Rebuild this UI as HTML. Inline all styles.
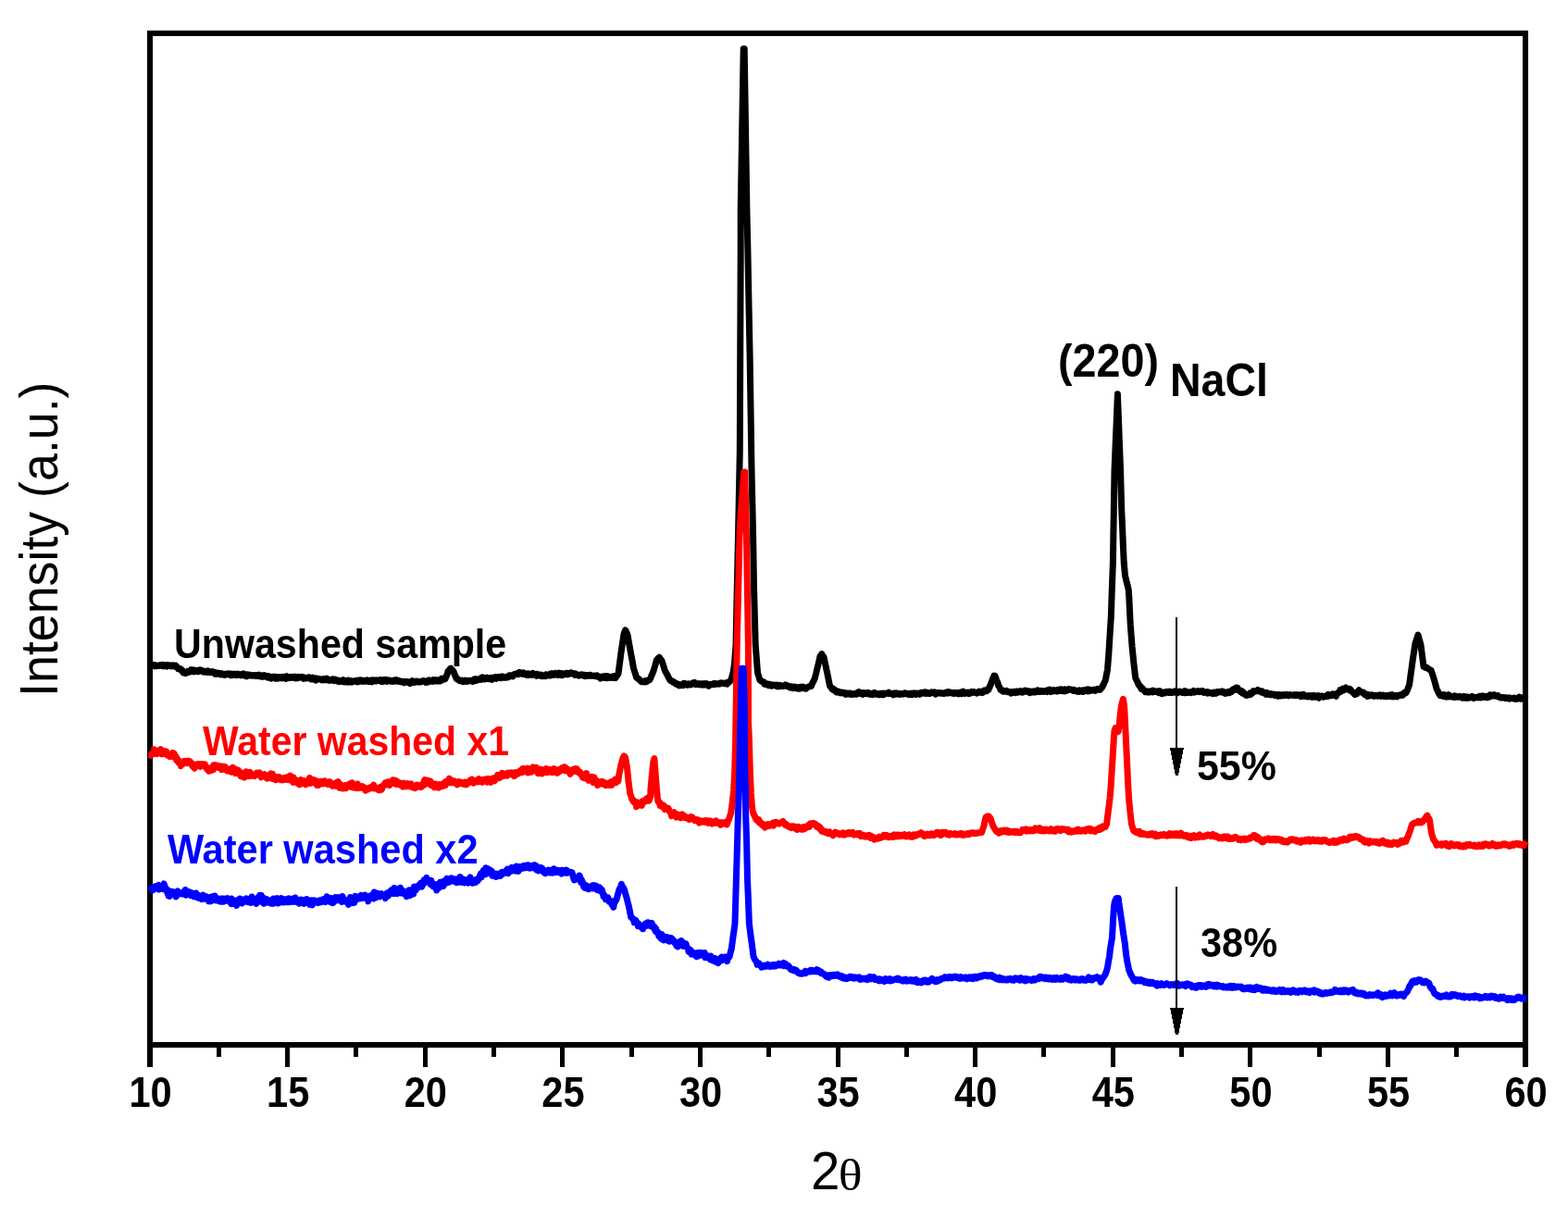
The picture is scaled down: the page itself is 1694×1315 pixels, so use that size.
<!DOCTYPE html>
<html lang="en"><head><meta charset="utf-8"><title>XRD patterns</title>
<style>html,body{margin:0;padding:0;background:#fff}body{width:1694px;height:1315px;overflow:hidden}svg{display:block}text{font-family:"Liberation Sans",Arial,Helvetica,sans-serif;fill:#000}.b{font-weight:bold}.tk{font-size:45.77px;font-weight:bold;text-anchor:middle}.th{font-family:"Liberation Serif","DejaVu Serif",serif;font-size:48.5px}.an{font-size:42px;font-weight:bold}.ax{font-size:55px}.cv{fill:none;stroke-linejoin:round;stroke-linecap:butt}</style></head><body>
<svg width="1694" height="1315" viewBox="0 0 1694 1315">
<rect x="0" y="0" width="1694" height="1315" fill="#fff"/>
<g stroke="#000" fill="none" shape-rendering="crispEdges">
<rect x="162" y="36" width="1486" height="1093" stroke-width="6"/>
<path d="M162.0 1129V1153M310.6 1129V1153M459.2 1129V1153M607.8 1129V1153M756.4 1129V1153M905.0 1129V1153M1053.6 1129V1153M1202.2 1129V1153M1350.8 1129V1153M1499.4 1129V1153M1648.0 1129V1153" stroke-width="5"/>
<path d="M236.3 1129V1142M384.9 1129V1142M533.5 1129V1142M682.1 1129V1142M830.7 1129V1142M979.3 1129V1142M1127.9 1129V1142M1276.5 1129V1142M1425.1 1129V1142M1573.7 1129V1142" stroke-width="5"/>
<path d="M162 1129V1153M1648 1129V1153" stroke-width="6"/>
</g>
<text class="tk" transform="translate(162.6 1195.6) scale(0.9087 1)">10</text>
<text class="tk" transform="translate(311.2 1195.6) scale(0.9087 1)">15</text>
<text class="tk" transform="translate(459.8 1195.6) scale(0.9087 1)">20</text>
<text class="tk" transform="translate(608.4 1195.6) scale(0.9087 1)">25</text>
<text class="tk" transform="translate(757.0 1195.6) scale(0.9087 1)">30</text>
<text class="tk" transform="translate(905.6 1195.6) scale(0.9087 1)">35</text>
<text class="tk" transform="translate(1054.2 1195.6) scale(0.9087 1)">40</text>
<text class="tk" transform="translate(1202.8 1195.6) scale(0.9087 1)">45</text>
<text class="tk" transform="translate(1351.4 1195.6) scale(0.9087 1)">50</text>
<text class="tk" transform="translate(1500.0 1195.6) scale(0.9087 1)">55</text>
<text class="tk" transform="translate(1648.6 1195.6) scale(0.9087 1)">60</text>
<text class="ax" transform="translate(875.9 1285) scale(1.008 1.026)" style="font-size:56px">2</text>
<text class="th" transform="translate(905.8 1286) scale(1.11 1)">θ</text>
<text class="ax" transform="translate(62.2 752.9) rotate(-90) scale(0.9435 1)" style="font-size:56.96px">Intensity (a.u.)</text>
<path class="cv" stroke="#000" stroke-width="7" d="M162.4 720.0 L163.0 718.9 L163.6 719.0 L164.2 717.9 L164.8 718.8 L165.4 718.4 L166.0 718.8 L166.6 718.7 L167.2 719.8 L167.8 718.6 L168.4 719.1 L169.0 719.0 L169.6 719.7 L170.2 719.3 L170.8 719.1 L171.4 719.2 L172.0 719.4 L172.6 718.9 L173.2 718.4 L173.8 718.5 L174.4 719.2 L175.0 719.6 L175.6 718.3 L176.2 719.0 L176.8 718.6 L177.4 719.7 L178.0 718.7 L178.6 718.9 L179.2 719.3 L179.8 718.8 L180.4 720.0 L181.0 718.7 L181.6 719.6 L182.2 718.8 L182.8 718.7 L183.4 718.9 L184.0 719.7 L184.6 719.8 L185.2 720.0 L185.8 719.2 L186.4 718.8 L187.0 719.4 L187.6 719.1 L188.2 719.0 L188.8 720.1 L189.4 719.7 L190.0 719.1 L190.6 720.2 L191.2 720.7 L191.8 721.2 L192.4 722.6 L192.9 722.3 L193.5 722.6 L194.1 723.2 L194.7 722.8 L195.3 722.8 L195.9 723.9 L196.5 725.1 L197.1 724.5 L197.6 724.8 L198.2 727.0 L198.8 726.1 L199.4 726.7 L200.0 726.7 L200.6 727.6 L201.2 726.9 L201.8 727.1 L202.3 726.8 L202.9 725.5 L203.5 726.1 L204.1 725.7 L204.7 725.3 L205.2 726.0 L205.8 724.8 L206.4 723.6 L207.0 724.0 L207.6 724.9 L208.2 725.1 L208.8 723.8 L209.4 725.8 L210.0 724.0 L210.6 725.4 L211.2 724.8 L211.8 724.9 L212.4 724.7 L213.0 724.9 L213.6 725.8 L214.2 725.8 L214.8 724.2 L215.4 724.8 L216.0 724.7 L216.6 724.0 L217.2 724.9 L217.8 724.5 L218.4 724.8 L219.0 725.5 L219.6 726.0 L220.2 725.3 L220.8 726.0 L221.4 726.1 L222.0 726.2 L222.6 725.4 L223.1 726.0 L223.7 726.0 L224.3 726.3 L224.9 725.0 L225.5 725.9 L226.1 725.9 L226.7 725.8 L227.3 726.6 L227.9 726.2 L228.5 726.1 L229.1 725.7 L229.7 726.2 L230.3 726.8 L230.9 726.3 L231.4 727.0 L232.0 728.0 L232.6 727.6 L233.2 728.3 L233.8 727.0 L234.4 728.2 L235.0 727.2 L235.6 727.3 L236.2 727.8 L236.8 727.4 L237.4 727.8 L238.0 728.7 L238.6 727.8 L239.2 727.6 L239.8 728.8 L240.3 728.3 L240.9 728.4 L241.5 728.6 L242.1 729.2 L242.7 729.4 L243.3 729.1 L243.9 728.1 L244.5 728.8 L245.1 728.9 L245.7 728.5 L246.3 728.6 L246.9 728.0 L247.5 728.5 L248.1 728.2 L248.7 728.9 L249.2 729.6 L249.8 729.1 L250.4 728.2 L251.0 729.5 L251.6 729.1 L252.2 729.1 L252.8 729.1 L253.4 728.3 L254.0 728.9 L254.6 729.4 L255.2 729.6 L255.8 728.7 L256.4 729.3 L257.0 728.2 L257.6 728.7 L258.2 728.9 L258.8 728.6 L259.4 729.4 L260.0 729.8 L260.7 728.6 L261.3 729.3 L261.9 728.7 L262.5 729.0 L263.1 727.9 L263.7 729.0 L264.3 730.1 L264.9 729.7 L265.5 729.8 L266.1 729.9 L266.7 730.7 L267.3 728.9 L267.9 729.4 L268.5 729.7 L269.1 730.0 L269.7 729.1 L270.3 730.0 L270.9 730.1 L271.5 729.8 L272.1 729.7 L272.7 730.3 L273.3 730.1 L274.0 729.5 L274.6 729.8 L275.2 730.1 L275.8 730.4 L276.4 729.8 L277.0 730.4 L277.6 730.2 L278.2 729.8 L278.8 729.4 L279.4 729.1 L280.0 730.6 L280.6 730.0 L281.2 730.1 L281.8 729.8 L282.4 731.1 L283.0 730.7 L283.6 730.1 L284.2 731.2 L284.8 730.5 L285.4 729.7 L285.9 731.0 L286.5 729.8 L287.1 730.1 L287.7 731.2 L288.3 731.7 L288.9 732.1 L289.5 731.3 L290.1 730.6 L290.7 731.6 L291.3 732.1 L291.9 732.5 L292.5 731.5 L293.1 733.1 L293.7 732.0 L294.3 731.2 L294.9 731.2 L295.5 731.7 L296.1 731.5 L296.6 731.2 L297.2 732.3 L297.8 733.1 L298.4 732.3 L299.0 731.8 L299.6 732.5 L300.2 733.1 L300.8 732.4 L301.4 732.3 L302.0 731.6 L302.6 731.9 L303.2 732.7 L303.8 732.7 L304.4 732.9 L305.0 731.4 L305.6 732.5 L306.2 732.1 L306.8 731.5 L307.4 732.3 L308.1 733.0 L308.7 733.3 L309.3 731.7 L309.9 730.8 L310.5 732.9 L311.1 732.1 L311.7 732.1 L312.3 732.1 L312.9 732.1 L313.5 732.4 L314.1 731.4 L314.7 731.9 L315.3 732.1 L315.9 732.2 L316.5 731.3 L317.1 731.6 L317.7 732.5 L318.3 732.3 L318.9 731.2 L319.6 733.0 L320.2 732.1 L320.8 732.6 L321.4 732.8 L322.0 732.7 L322.6 731.5 L323.2 731.9 L323.8 732.1 L324.4 731.5 L325.0 731.6 L325.6 731.4 L326.2 732.2 L326.8 732.2 L327.4 732.4 L328.0 733.3 L328.6 731.9 L329.2 732.7 L329.8 732.5 L330.4 733.0 L331.0 732.6 L331.6 732.8 L332.2 732.6 L332.8 732.1 L333.4 731.8 L334.0 731.7 L334.6 732.9 L335.2 732.6 L335.8 733.8 L336.4 733.1 L337.0 732.8 L337.6 733.8 L338.2 732.2 L338.8 733.9 L339.4 733.9 L340.0 734.4 L340.6 733.4 L341.2 735.1 L341.8 732.8 L342.4 734.5 L343.0 733.8 L343.6 734.0 L344.2 733.4 L344.8 733.5 L345.4 733.9 L346.0 733.9 L346.6 733.9 L347.2 733.9 L347.8 734.9 L348.4 734.6 L349.0 734.8 L349.6 733.6 L350.2 734.6 L350.8 734.2 L351.4 734.5 L352.0 733.4 L352.6 734.2 L353.2 733.2 L353.8 734.4 L354.4 735.1 L355.1 735.2 L355.7 735.3 L356.3 734.8 L356.9 735.2 L357.5 734.6 L358.1 734.8 L358.7 734.6 L359.3 734.0 L359.9 734.8 L360.5 734.2 L361.1 735.5 L361.7 734.2 L362.3 735.1 L362.9 734.4 L363.5 734.9 L364.1 735.9 L364.7 735.8 L365.3 736.3 L365.9 735.3 L366.6 736.4 L367.2 736.3 L367.8 736.6 L368.4 736.5 L369.0 735.6 L369.6 735.2 L370.2 735.6 L370.8 734.7 L371.4 735.4 L372.0 736.9 L372.6 736.0 L373.2 735.6 L373.8 735.9 L374.4 736.3 L375.0 737.0 L375.6 736.1 L376.2 734.9 L376.8 734.9 L377.4 737.1 L378.0 737.1 L378.6 735.7 L379.2 736.6 L379.8 736.0 L380.4 737.0 L381.0 736.4 L381.6 736.2 L382.2 736.2 L382.8 735.7 L383.4 735.7 L384.0 735.6 L384.6 736.1 L385.2 735.5 L385.8 736.9 L386.4 735.4 L387.0 736.7 L387.6 736.7 L388.2 736.3 L388.8 734.8 L389.4 735.7 L390.0 735.2 L390.6 736.0 L391.2 735.5 L391.8 735.3 L392.4 735.3 L393.0 736.2 L393.6 735.6 L394.2 735.9 L394.8 736.1 L395.4 735.3 L396.0 736.0 L396.6 736.1 L397.2 735.0 L397.8 736.3 L398.4 735.7 L399.0 736.5 L399.6 735.5 L400.2 735.3 L400.8 735.0 L401.4 735.9 L402.0 736.8 L402.6 734.8 L403.2 734.8 L403.8 735.0 L404.4 735.6 L405.0 735.8 L405.6 735.7 L406.2 736.0 L406.8 735.0 L407.4 735.5 L408.0 735.6 L408.6 735.4 L409.2 735.0 L409.8 735.5 L410.4 734.6 L411.0 735.2 L411.6 734.8 L412.2 736.4 L412.8 735.8 L413.4 735.2 L414.0 736.6 L414.6 734.5 L415.2 735.0 L415.8 734.6 L416.4 735.2 L417.0 734.5 L417.6 735.5 L418.2 736.3 L418.8 734.9 L419.4 735.2 L420.0 734.9 L420.6 735.3 L421.2 735.2 L421.8 736.1 L422.4 735.6 L423.0 736.2 L423.6 735.7 L424.2 736.4 L424.8 735.9 L425.4 735.7 L426.1 735.0 L426.7 736.3 L427.3 736.3 L427.9 735.6 L428.5 734.7 L429.1 736.1 L429.7 736.1 L430.3 735.8 L430.9 736.3 L431.5 735.7 L432.1 736.1 L432.7 736.5 L433.3 736.7 L433.9 736.9 L434.5 736.3 L435.1 736.4 L435.7 736.8 L436.3 736.7 L436.9 737.8 L437.6 736.5 L438.2 737.1 L438.8 736.8 L439.4 736.4 L440.0 736.6 L440.6 736.6 L441.2 737.6 L441.8 738.1 L442.4 738.1 L443.0 738.5 L443.6 737.8 L444.2 737.8 L444.8 737.2 L445.4 735.7 L446.0 736.4 L446.6 737.4 L447.2 736.6 L447.9 736.3 L448.5 736.3 L449.1 737.0 L449.7 736.4 L450.3 736.0 L450.9 736.5 L451.5 736.9 L452.1 737.0 L452.7 736.4 L453.3 736.5 L453.9 737.0 L454.5 737.0 L455.1 736.5 L455.8 736.3 L456.4 735.8 L457.0 735.6 L457.6 735.4 L458.2 735.9 L458.8 736.3 L459.4 736.3 L460.0 737.4 L460.6 736.6 L461.2 736.0 L461.8 737.0 L462.4 736.2 L463.0 736.8 L463.6 734.9 L464.1 735.2 L464.7 735.9 L465.3 736.2 L465.9 735.8 L466.5 735.7 L467.1 735.7 L467.7 736.3 L468.3 734.7 L468.9 735.7 L469.5 734.7 L470.1 734.6 L470.7 735.9 L471.3 735.5 L471.9 735.7 L472.4 735.9 L473.0 734.8 L473.6 734.9 L474.2 735.9 L474.8 735.1 L475.4 735.4 L476.0 735.8 L476.6 735.2 L477.2 733.1 L477.9 734.6 L478.5 733.7 L479.1 733.7 L479.8 734.1 L480.4 732.9 L481.0 733.5 L481.6 732.2 L482.2 730.6 L482.8 729.2 L483.4 727.9 L484.0 725.4 L484.6 724.6 L485.2 724.1 L485.8 723.6 L486.4 722.5 L487.0 722.1 L487.6 723.1 L488.2 723.4 L488.8 724.3 L489.4 724.8 L490.0 725.5 L490.6 727.2 L491.2 728.5 L491.8 730.5 L492.4 731.2 L493.0 733.3 L493.6 733.2 L494.2 734.2 L494.8 733.9 L495.4 734.3 L496.0 734.5 L496.6 735.6 L497.2 735.2 L497.8 735.5 L498.4 735.5 L499.0 735.2 L499.7 736.5 L500.3 736.7 L500.9 736.0 L501.5 736.3 L502.1 736.4 L502.7 735.1 L503.3 736.3 L503.9 736.1 L504.5 736.4 L505.1 735.7 L505.7 735.3 L506.3 735.9 L507.0 735.4 L507.6 735.4 L508.2 735.7 L508.8 735.5 L509.4 735.7 L510.0 735.2 L510.6 736.4 L511.2 734.8 L511.8 734.3 L512.4 736.0 L513.0 735.6 L513.6 735.0 L514.2 733.6 L514.8 735.3 L515.4 734.7 L516.0 734.5 L516.6 734.8 L517.2 734.6 L517.8 733.8 L518.4 733.4 L519.0 733.8 L519.6 732.6 L520.2 734.3 L520.8 733.4 L521.4 731.8 L522.0 733.8 L522.6 733.8 L523.2 734.0 L523.8 733.6 L524.4 733.5 L525.0 733.0 L525.6 733.2 L526.2 732.3 L526.8 733.6 L527.4 732.6 L528.0 732.7 L528.5 733.6 L529.1 733.2 L529.7 733.3 L530.3 732.3 L530.9 732.6 L531.5 734.4 L532.1 732.3 L532.7 733.5 L533.3 732.4 L533.9 732.8 L534.5 732.9 L535.0 731.7 L535.6 732.7 L536.2 733.2 L536.8 731.6 L537.4 732.7 L538.0 732.1 L538.6 732.3 L539.2 731.9 L539.8 731.3 L540.4 731.2 L541.0 732.6 L541.6 732.4 L542.2 732.0 L542.8 730.9 L543.4 731.5 L544.0 732.2 L544.6 732.3 L545.2 731.8 L545.8 731.7 L546.4 732.1 L547.0 731.4 L547.6 731.2 L548.2 731.1 L548.8 731.8 L549.4 731.0 L550.0 730.0 L550.6 729.7 L551.2 729.8 L551.8 730.6 L552.4 730.4 L553.0 729.9 L553.5 730.1 L554.1 730.7 L554.7 729.5 L555.3 729.4 L555.9 728.4 L556.5 728.7 L557.1 728.3 L557.7 728.2 L558.3 727.8 L558.9 727.5 L559.5 728.7 L560.1 728.5 L560.6 728.3 L561.2 726.3 L561.8 727.9 L562.4 728.0 L563.0 727.5 L563.6 727.8 L564.2 728.0 L564.8 728.3 L565.4 726.8 L566.0 727.0 L566.6 728.2 L567.2 728.6 L567.8 728.0 L568.4 729.2 L569.0 728.1 L569.6 729.1 L570.2 729.6 L570.8 727.8 L571.4 729.0 L572.0 729.2 L572.6 728.6 L573.2 729.0 L573.8 728.3 L574.4 728.5 L575.0 729.2 L575.6 727.3 L576.2 727.9 L576.8 728.3 L577.4 728.6 L578.0 729.4 L578.6 729.6 L579.2 729.2 L579.8 730.2 L580.4 728.4 L581.0 728.8 L581.6 728.8 L582.2 729.1 L582.8 729.1 L583.4 730.0 L584.0 729.3 L584.6 729.9 L585.2 729.5 L585.8 730.6 L586.4 729.9 L587.0 730.0 L587.6 729.7 L588.2 730.3 L588.8 730.4 L589.4 730.6 L590.0 728.8 L590.6 729.1 L591.2 729.4 L591.8 729.7 L592.4 729.7 L593.0 729.9 L593.6 729.7 L594.2 728.4 L594.8 729.9 L595.4 728.1 L596.0 729.1 L596.6 727.7 L597.2 729.1 L597.8 729.3 L598.4 729.4 L599.0 728.4 L599.6 728.1 L600.2 727.4 L600.8 728.1 L601.4 727.9 L602.0 728.6 L602.6 729.4 L603.2 728.6 L603.8 728.8 L604.4 727.2 L605.0 728.2 L605.6 728.8 L606.2 727.7 L606.8 729.6 L607.4 727.7 L608.0 727.7 L608.5 729.2 L609.1 728.3 L609.7 728.8 L610.3 728.3 L610.9 728.4 L611.5 727.4 L612.1 727.3 L612.7 728.0 L613.3 728.9 L613.9 727.7 L614.5 727.8 L615.0 727.4 L615.6 728.1 L616.2 727.3 L616.8 726.7 L617.4 726.9 L618.0 727.3 L618.6 727.8 L619.2 727.5 L619.8 728.0 L620.4 728.8 L620.9 729.2 L621.5 727.8 L622.1 728.2 L622.7 728.4 L623.3 729.1 L623.9 729.1 L624.5 729.9 L625.1 729.8 L625.7 730.1 L626.2 729.5 L626.8 729.6 L627.4 729.6 L628.0 728.9 L628.6 729.4 L629.2 729.7 L629.8 729.9 L630.4 729.1 L631.0 729.9 L631.6 729.6 L632.1 730.6 L632.7 729.4 L633.3 730.5 L633.9 730.3 L634.5 730.3 L635.1 729.6 L635.7 730.0 L636.3 730.2 L636.9 729.4 L637.5 729.3 L638.1 729.4 L638.7 730.3 L639.3 730.2 L639.9 730.1 L640.5 730.3 L641.1 730.1 L641.7 730.0 L642.2 730.4 L642.8 730.6 L643.4 730.5 L644.0 730.1 L644.6 730.9 L645.2 730.0 L645.8 730.4 L646.4 731.0 L647.0 731.2 L647.6 732.0 L648.2 731.6 L648.8 733.0 L649.4 731.3 L650.0 730.9 L650.6 731.1 L651.2 731.7 L651.8 730.9 L652.4 730.9 L653.0 732.4 L653.6 730.6 L654.2 730.7 L654.8 731.2 L655.4 732.7 L656.0 730.5 L656.6 731.9 L657.2 732.3 L657.8 731.6 L658.4 732.0 L659.0 731.4 L659.6 732.3 L660.2 731.3 L660.8 731.3 L661.4 731.7 L662.0 732.3 L662.6 731.5 L663.2 730.8 L663.8 731.8 L664.4 732.0 L665.0 732.5 L665.6 731.1 L666.2 730.4 L666.8 729.8 L667.4 729.0 L668.0 728.0 L669.0 720.3 L670.0 712.7 L671.0 705.0 L672.0 698.3 L673.0 691.7 L674.0 685.0 L674.5 683.8 L675.1 682.0 L675.6 680.9 L676.2 681.8 L676.8 683.1 L677.4 684.7 L678.0 686.0 L679.0 691.7 L680.0 697.3 L681.0 703.0 L681.9 707.8 L682.8 712.5 L683.6 717.2 L684.5 722.0 L685.5 725.3 L686.6 728.7 L687.6 732.0 L688.2 732.5 L688.9 733.1 L689.5 733.2 L690.1 733.5 L690.7 734.7 L691.4 734.8 L692.0 735.7 L692.6 736.5 L693.1 736.7 L693.7 736.5 L694.3 736.8 L694.9 736.9 L695.4 736.4 L696.0 736.0 L696.6 736.6 L697.2 736.9 L697.8 735.4 L698.4 735.6 L699.0 736.2 L699.6 735.3 L700.2 735.3 L700.8 735.0 L701.4 734.9 L702.0 734.6 L702.6 733.0 L703.1 732.1 L703.7 730.2 L704.3 729.4 L704.9 727.7 L705.4 726.4 L706.0 725.0 L706.9 722.0 L707.8 719.0 L708.6 716.0 L709.5 713.0 L710.1 712.3 L710.7 711.7 L711.2 711.1 L711.8 711.1 L712.4 710.3 L713.0 711.6 L713.7 712.2 L714.4 713.0 L715.0 714.0 L715.9 716.8 L716.8 719.5 L717.6 722.2 L718.5 725.0 L719.1 726.1 L719.7 726.9 L720.3 728.3 L720.9 729.2 L721.6 730.4 L722.2 732.0 L722.8 732.7 L723.4 734.0 L724.0 735.3 L724.6 735.4 L725.2 736.0 L725.9 735.7 L726.5 736.4 L727.1 737.1 L727.8 736.6 L728.4 737.1 L729.0 737.6 L729.6 738.8 L730.1 738.7 L730.7 739.3 L731.3 739.6 L731.9 738.9 L732.5 739.6 L733.0 739.7 L733.6 740.7 L734.2 739.7 L734.8 740.3 L735.4 740.7 L736.0 740.3 L736.6 740.5 L737.2 740.2 L737.9 740.6 L738.5 738.4 L739.1 738.2 L739.7 738.5 L740.3 738.9 L740.9 739.6 L741.5 739.3 L742.1 740.0 L742.7 740.3 L743.3 739.9 L743.9 738.9 L744.5 739.5 L745.1 739.4 L745.7 739.3 L746.4 739.8 L747.0 738.7 L747.6 738.3 L748.2 739.2 L748.8 739.0 L749.4 737.8 L750.0 738.5 L750.6 737.5 L751.2 739.6 L751.8 739.7 L752.4 739.4 L753.0 738.6 L753.6 738.9 L754.2 738.9 L754.8 739.5 L755.4 738.7 L756.0 739.8 L756.7 739.9 L757.3 739.2 L757.9 738.8 L758.5 739.6 L759.1 739.0 L759.7 740.0 L760.3 738.7 L760.9 738.6 L761.5 739.8 L762.1 739.5 L762.7 739.3 L763.3 738.8 L763.9 739.9 L764.5 740.3 L765.1 740.1 L765.7 741.2 L766.3 739.6 L766.9 739.3 L767.5 739.3 L768.1 739.9 L768.7 739.4 L769.3 739.2 L770.0 739.5 L770.6 739.5 L771.2 739.7 L771.8 738.5 L772.4 739.0 L773.0 738.6 L773.6 739.0 L774.2 739.3 L774.8 739.0 L775.4 738.7 L776.0 738.7 L776.6 738.8 L777.2 739.1 L777.8 738.1 L778.5 738.1 L779.1 737.7 L779.7 738.1 L780.3 738.3 L780.9 738.1 L781.5 738.4 L782.2 738.8 L782.8 738.5 L783.4 738.4 L784.0 737.9 L784.6 737.7 L785.1 737.9 L785.7 739.1 L786.3 737.4 L786.9 737.2 L787.4 737.1 L788.0 736.9 L788.7 736.0 L789.3 735.0 L790.0 734.0 L791.0 730.5 L792.0 727.0 L792.8 722.0 L793.5 717.0 L794.2 707.3 L795.0 697.6 L796.2 638.3 L797.5 579.0 L798.4 533.0 L799.3 487.0 L800.2 270.0 L800.2 227.0 L801.2 168.9 L802.2 110.8 L803.2 52.7 L803.7 52.7 L804.2 52.7 L805.1 110.8 L806.0 168.9 L806.9 227.0 L807.9 270.0 L809.0 329.3 L810.2 388.6 L811.1 447.8 L812.0 507.0 L812.8 543.0 L813.6 579.0 L814.6 638.0 L815.4 667.5 L816.2 697.0 L817.4 712.0 L818.5 727.0 L819.8 731.0 L821.0 735.0 L821.6 735.3 L822.2 735.7 L822.8 736.2 L823.4 736.3 L824.1 736.5 L824.7 737.4 L825.3 737.2 L825.9 739.2 L826.5 739.1 L827.2 739.2 L828.0 739.7 L828.6 739.9 L829.2 739.0 L829.8 740.6 L830.4 740.7 L831.0 740.5 L831.6 740.0 L832.2 739.4 L832.9 739.7 L833.5 741.2 L834.1 740.1 L834.7 740.6 L835.3 740.6 L835.9 740.2 L836.5 740.8 L837.1 740.9 L837.7 740.3 L838.3 740.4 L838.9 740.9 L839.5 740.1 L840.1 741.8 L840.8 741.1 L841.4 741.2 L842.0 741.8 L842.6 741.8 L843.2 740.4 L843.8 741.2 L844.4 741.2 L845.0 741.2 L845.6 741.4 L846.2 741.5 L846.8 741.0 L847.4 740.8 L847.9 741.0 L848.5 740.0 L849.1 740.8 L849.7 740.7 L850.3 741.5 L850.9 741.0 L851.5 741.9 L852.1 742.2 L852.6 742.1 L853.2 741.8 L853.8 743.1 L854.4 742.6 L855.0 741.9 L855.6 742.1 L856.2 743.0 L856.8 743.6 L857.4 742.5 L858.0 742.0 L858.6 742.2 L859.2 742.3 L859.8 743.4 L860.4 743.4 L861.0 743.9 L861.6 743.5 L862.2 744.1 L862.8 744.2 L863.4 742.6 L864.0 743.1 L864.6 742.5 L865.2 743.8 L865.8 742.6 L866.4 743.6 L867.0 742.2 L867.6 742.9 L868.2 742.4 L868.8 742.8 L869.4 744.0 L870.0 744.1 L870.6 744.3 L871.2 743.9 L871.8 743.0 L872.4 742.6 L873.0 742.6 L873.6 742.1 L874.2 741.6 L874.8 741.3 L875.4 741.5 L876.0 741.6 L876.6 740.9 L877.1 739.7 L877.7 738.2 L878.3 736.9 L878.9 736.1 L879.4 734.9 L880.0 734.0 L880.9 730.5 L881.8 727.0 L882.6 723.5 L883.5 720.0 L884.8 714.5 L886.0 709.0 L886.6 708.6 L887.2 708.2 L887.8 706.6 L888.3 708.8 L888.9 709.3 L889.5 709.2 L890.0 710.0 L891.0 714.7 L892.0 719.3 L893.0 724.0 L893.9 728.2 L894.8 732.5 L895.6 736.8 L896.5 741.0 L897.1 741.8 L897.7 742.9 L898.2 742.9 L898.8 744.5 L899.4 744.3 L900.0 744.1 L900.6 745.5 L901.2 745.2 L901.8 745.4 L902.4 746.3 L903.0 747.1 L903.6 747.9 L904.2 747.6 L904.8 747.3 L905.4 747.9 L906.0 747.1 L906.6 748.1 L907.2 748.7 L907.9 748.9 L908.5 748.3 L909.1 748.7 L909.7 748.1 L910.3 748.9 L910.9 748.7 L911.5 748.2 L912.1 748.4 L912.7 749.4 L913.3 748.9 L913.9 750.3 L914.5 749.5 L915.1 749.0 L915.7 749.5 L916.4 749.1 L917.0 749.9 L917.6 749.3 L918.2 750.0 L918.8 749.2 L919.4 750.4 L920.0 749.7 L920.6 750.3 L921.2 749.6 L921.8 749.9 L922.4 749.7 L923.0 749.9 L923.6 750.2 L924.2 750.3 L924.8 749.7 L925.5 750.1 L926.1 748.5 L926.7 749.2 L927.3 749.0 L927.9 747.5 L928.5 748.8 L929.1 749.3 L929.7 748.5 L930.3 749.5 L930.9 749.8 L931.5 749.9 L932.1 750.3 L932.7 748.6 L933.3 749.7 L933.9 748.6 L934.5 749.0 L935.2 749.2 L935.8 749.2 L936.4 749.8 L937.0 749.5 L937.6 748.4 L938.2 749.3 L938.8 749.5 L939.4 749.1 L940.0 750.3 L940.6 749.9 L941.2 749.5 L941.8 749.9 L942.4 750.2 L943.0 750.5 L943.6 748.8 L944.2 749.4 L944.8 748.5 L945.4 750.0 L946.0 749.7 L946.6 749.3 L947.2 750.1 L947.8 750.4 L948.4 750.2 L949.0 749.8 L949.6 750.7 L950.2 750.7 L950.8 750.6 L951.4 749.3 L952.0 749.3 L952.6 750.6 L953.2 749.8 L953.8 750.6 L954.4 749.2 L955.0 750.4 L955.6 749.2 L956.2 749.2 L956.8 749.5 L957.4 748.9 L958.0 749.0 L958.6 749.2 L959.2 749.2 L959.8 749.6 L960.4 748.2 L961.0 749.4 L961.6 749.1 L962.2 749.6 L962.8 749.6 L963.4 750.1 L964.0 750.0 L964.6 749.5 L965.2 750.9 L965.8 749.0 L966.4 749.4 L967.0 749.5 L967.6 750.1 L968.2 748.8 L968.8 749.9 L969.4 750.0 L970.0 749.9 L970.6 749.6 L971.2 749.9 L971.8 750.4 L972.4 749.5 L973.0 749.5 L973.6 750.2 L974.2 749.9 L974.8 749.4 L975.4 749.6 L976.0 750.0 L976.6 749.2 L977.2 748.8 L977.8 749.2 L978.4 749.0 L979.0 749.3 L979.6 749.2 L980.2 750.0 L980.8 749.5 L981.4 750.1 L982.0 750.5 L982.6 749.7 L983.2 750.2 L983.8 750.5 L984.4 750.0 L985.0 749.2 L985.6 750.5 L986.2 750.0 L986.8 749.4 L987.4 749.0 L988.0 750.1 L988.6 750.0 L989.2 750.3 L989.8 749.5 L990.4 749.0 L991.0 749.2 L991.6 749.6 L992.2 750.0 L992.8 750.1 L993.4 750.3 L994.0 748.8 L994.6 749.8 L995.2 749.3 L995.8 748.3 L996.4 748.4 L997.0 749.1 L997.6 748.6 L998.2 748.3 L998.8 747.9 L999.4 748.3 L1000.0 749.4 L1000.6 747.9 L1001.2 748.5 L1001.8 748.7 L1002.4 748.9 L1003.0 749.4 L1003.6 748.7 L1004.2 748.6 L1004.8 749.2 L1005.4 748.2 L1006.0 748.4 L1006.6 747.8 L1007.2 748.1 L1007.8 748.5 L1008.4 748.6 L1009.0 749.1 L1009.7 747.8 L1010.3 749.0 L1010.9 750.2 L1011.5 749.4 L1012.1 748.5 L1012.7 748.4 L1013.3 748.6 L1013.9 748.7 L1014.5 748.9 L1015.1 748.6 L1015.7 748.6 L1016.3 748.9 L1016.9 749.3 L1017.5 748.9 L1018.1 748.8 L1018.7 749.0 L1019.3 749.6 L1019.9 749.5 L1020.5 748.7 L1021.1 748.9 L1021.7 748.2 L1022.3 748.2 L1022.9 748.6 L1023.5 749.1 L1024.1 747.5 L1024.7 748.2 L1025.3 748.6 L1025.9 748.0 L1026.5 748.6 L1027.1 748.1 L1027.7 748.4 L1028.3 749.0 L1029.0 749.0 L1029.6 748.7 L1030.2 749.4 L1030.8 749.2 L1031.4 748.4 L1032.0 748.4 L1032.6 749.0 L1033.2 748.5 L1033.8 748.5 L1034.4 748.4 L1035.0 749.0 L1035.6 749.9 L1036.2 749.3 L1036.8 749.0 L1037.4 748.1 L1038.0 748.8 L1038.6 749.6 L1039.2 749.1 L1039.8 747.7 L1040.4 747.2 L1041.0 748.7 L1041.6 748.0 L1042.2 749.5 L1042.8 749.1 L1043.4 748.3 L1044.0 748.2 L1044.6 748.4 L1045.2 748.6 L1045.8 748.1 L1046.4 748.6 L1047.0 749.6 L1047.6 748.5 L1048.2 748.2 L1048.8 747.8 L1049.4 748.8 L1050.0 747.4 L1050.6 747.9 L1051.2 748.2 L1051.8 748.3 L1052.4 747.6 L1053.0 747.8 L1053.6 748.2 L1054.2 748.8 L1054.8 748.7 L1055.4 749.1 L1056.0 748.7 L1056.6 748.5 L1057.2 747.8 L1057.8 747.1 L1058.4 747.9 L1059.0 748.1 L1059.6 747.4 L1060.2 747.5 L1060.8 747.1 L1061.4 748.5 L1062.0 748.0 L1062.6 746.9 L1063.1 746.1 L1063.7 746.9 L1064.3 746.6 L1064.9 745.9 L1065.4 746.5 L1066.0 746.7 L1066.6 745.4 L1067.2 744.4 L1067.9 745.3 L1068.5 743.5 L1069.1 742.9 L1069.7 740.6 L1070.3 740.0 L1070.9 737.7 L1071.4 736.5 L1072.0 734.9 L1072.6 733.1 L1073.2 732.2 L1073.8 730.1 L1074.4 730.2 L1075.0 730.3 L1075.6 732.3 L1076.2 733.6 L1076.8 735.7 L1077.3 736.9 L1077.9 737.3 L1078.5 740.8 L1079.1 741.1 L1079.7 742.4 L1080.4 743.4 L1081.0 745.4 L1081.6 745.9 L1082.1 745.8 L1082.7 745.7 L1083.3 747.1 L1083.9 747.2 L1084.4 746.7 L1085.0 747.3 L1085.6 747.1 L1086.2 747.0 L1086.8 746.6 L1087.4 746.4 L1088.0 747.2 L1088.6 747.7 L1089.2 747.8 L1089.8 747.5 L1090.4 747.9 L1091.0 747.5 L1091.6 747.4 L1092.2 749.1 L1092.8 748.8 L1093.4 747.4 L1094.0 747.5 L1094.6 748.4 L1095.2 748.3 L1095.8 747.4 L1096.4 747.9 L1097.0 748.5 L1097.6 747.7 L1098.2 747.0 L1098.8 746.9 L1099.4 748.1 L1100.0 747.4 L1100.6 747.3 L1101.2 747.6 L1101.8 747.4 L1102.4 746.8 L1103.0 747.7 L1103.6 747.2 L1104.2 748.1 L1104.8 748.2 L1105.4 747.9 L1106.0 747.5 L1106.6 746.2 L1107.2 746.0 L1107.8 747.2 L1108.4 746.6 L1109.0 746.3 L1109.6 747.3 L1110.2 747.0 L1110.8 747.3 L1111.4 748.0 L1112.0 747.0 L1112.6 748.7 L1113.2 748.1 L1113.8 747.1 L1114.4 747.2 L1115.0 747.7 L1115.6 748.0 L1116.2 747.1 L1116.8 746.7 L1117.4 747.1 L1118.0 747.7 L1118.6 748.0 L1119.2 747.2 L1119.8 747.2 L1120.4 747.2 L1121.0 745.8 L1121.6 747.4 L1122.2 746.1 L1122.8 746.4 L1123.4 746.6 L1124.0 747.4 L1124.6 746.5 L1125.2 747.0 L1125.8 747.2 L1126.4 746.6 L1127.0 746.7 L1127.6 747.4 L1128.2 747.0 L1128.8 746.5 L1129.4 746.4 L1130.0 747.2 L1130.6 747.0 L1131.2 747.5 L1131.8 745.9 L1132.4 746.6 L1133.0 745.8 L1133.6 746.8 L1134.2 745.1 L1134.8 745.8 L1135.5 747.5 L1136.1 747.0 L1136.7 746.9 L1137.3 746.6 L1137.9 746.6 L1138.5 745.6 L1139.1 746.2 L1139.7 746.7 L1140.3 746.1 L1140.9 745.8 L1141.5 746.2 L1142.1 747.1 L1142.7 745.4 L1143.3 745.9 L1143.9 745.8 L1144.5 746.3 L1145.2 746.5 L1145.8 744.9 L1146.4 745.8 L1147.0 745.3 L1147.6 746.7 L1148.2 745.9 L1148.8 745.8 L1149.4 745.4 L1150.0 744.9 L1150.6 746.9 L1151.2 745.8 L1151.8 746.3 L1152.4 745.5 L1153.0 745.3 L1153.6 745.7 L1154.2 744.5 L1154.8 744.5 L1155.4 744.9 L1156.0 745.1 L1156.6 745.0 L1157.2 745.0 L1157.8 745.1 L1158.3 745.3 L1158.9 746.2 L1159.5 746.4 L1160.1 745.3 L1160.7 745.5 L1161.2 746.3 L1161.8 746.0 L1162.4 746.2 L1163.0 746.3 L1163.6 747.3 L1164.2 747.0 L1164.8 746.9 L1165.4 746.5 L1166.0 746.0 L1166.6 747.3 L1167.2 746.4 L1167.8 747.0 L1168.4 746.7 L1169.0 746.2 L1169.6 745.9 L1170.2 747.5 L1170.8 746.4 L1171.3 746.8 L1171.9 746.7 L1172.5 745.7 L1173.1 746.4 L1173.7 745.6 L1174.3 745.1 L1174.9 744.9 L1175.5 746.9 L1176.1 746.2 L1176.7 745.3 L1177.3 746.6 L1177.9 745.7 L1178.5 745.5 L1179.1 746.1 L1179.7 745.7 L1180.3 746.0 L1180.9 746.1 L1181.5 745.2 L1182.1 745.1 L1182.7 745.8 L1183.3 746.3 L1184.0 745.6 L1184.6 745.5 L1185.2 745.3 L1185.8 744.5 L1186.4 745.2 L1187.0 745.2 L1187.6 745.0 L1188.2 744.4 L1188.8 745.0 L1189.3 744.0 L1189.9 743.4 L1190.5 743.1 L1191.2 740.8 L1191.8 741.0 L1192.5 738.8 L1193.1 737.5 L1193.6 736.4 L1194.2 735.4 L1195.3 729.5 L1196.5 723.6 L1197.8 707.0 L1199.0 687.0 L1200.3 667.0 L1201.3 637.3 L1202.4 607.6 L1203.2 558.2 L1204.0 508.8 L1205.1 481.1 L1206.3 453.5 L1207.4 425.8 L1208.5 453.5 L1209.5 481.1 L1210.6 508.8 L1211.6 548.0 L1212.5 567.9 L1213.3 587.7 L1214.2 607.6 L1215.5 622.0 L1216.4 625.8 L1217.3 629.5 L1218.3 633.2 L1219.2 637.0 L1219.8 645.0 L1220.5 660.2 L1221.3 675.4 L1222.2 687.2 L1223.1 699.0 L1224.0 707.9 L1224.9 716.7 L1225.8 724.4 L1226.6 732.0 L1227.2 733.4 L1227.8 734.8 L1228.4 736.0 L1229.0 736.9 L1229.6 738.7 L1230.2 740.3 L1230.7 739.9 L1231.3 740.9 L1231.9 741.3 L1232.4 743.2 L1233.0 744.3 L1233.6 743.1 L1234.2 743.9 L1234.8 745.1 L1235.5 745.1 L1236.1 746.2 L1236.7 746.6 L1237.3 747.6 L1237.9 747.0 L1238.5 747.7 L1239.1 747.4 L1239.7 747.0 L1240.3 746.9 L1240.9 748.0 L1241.5 747.1 L1242.1 747.9 L1242.7 747.6 L1243.3 747.1 L1244.0 746.6 L1244.6 746.7 L1245.2 747.9 L1245.8 746.0 L1246.4 747.5 L1247.0 746.7 L1247.6 747.1 L1248.2 747.3 L1248.8 747.5 L1249.4 747.5 L1250.0 747.6 L1250.6 746.9 L1251.2 747.5 L1251.8 748.6 L1252.4 747.5 L1253.0 746.6 L1253.6 748.3 L1254.2 748.4 L1254.8 748.2 L1255.4 749.7 L1256.0 748.7 L1256.6 748.2 L1257.2 748.1 L1257.8 748.4 L1258.4 748.9 L1259.0 747.9 L1259.6 747.6 L1260.1 747.4 L1260.7 748.2 L1261.3 748.2 L1261.9 748.4 L1262.5 748.5 L1263.1 748.3 L1263.7 747.1 L1264.3 748.6 L1264.9 748.6 L1265.5 747.6 L1266.1 748.3 L1266.7 748.5 L1267.3 747.7 L1267.9 747.8 L1268.5 747.4 L1269.1 746.9 L1269.7 748.2 L1270.3 748.3 L1270.9 748.4 L1271.5 748.3 L1272.1 748.8 L1272.7 747.3 L1273.3 747.3 L1273.9 747.8 L1274.5 747.1 L1275.1 747.3 L1275.7 747.6 L1276.3 748.0 L1276.9 747.9 L1277.5 748.5 L1278.1 748.3 L1278.7 747.9 L1279.3 748.5 L1279.9 746.6 L1280.4 748.8 L1281.0 746.8 L1281.6 747.7 L1282.2 748.1 L1282.8 748.2 L1283.4 748.5 L1284.0 748.3 L1284.6 748.3 L1285.2 747.9 L1285.8 748.4 L1286.4 748.7 L1287.0 748.0 L1287.6 747.6 L1288.2 747.3 L1288.8 747.4 L1289.4 746.5 L1290.0 748.2 L1290.6 748.1 L1291.2 747.6 L1291.8 747.5 L1292.4 747.5 L1293.0 747.1 L1293.6 746.8 L1294.2 746.6 L1294.8 746.8 L1295.4 747.1 L1296.0 747.6 L1296.6 747.1 L1297.2 747.6 L1297.8 747.4 L1298.4 746.8 L1299.0 747.5 L1299.6 746.7 L1300.2 748.0 L1300.8 748.5 L1301.4 748.3 L1302.0 748.1 L1302.6 748.3 L1303.2 747.8 L1303.8 747.8 L1304.4 747.6 L1305.0 749.1 L1305.6 747.9 L1306.2 748.5 L1306.8 748.5 L1307.4 748.5 L1308.0 748.9 L1308.6 748.5 L1309.2 748.7 L1309.8 749.3 L1310.4 748.6 L1311.0 749.6 L1311.6 748.1 L1312.2 748.5 L1312.8 749.3 L1313.4 749.4 L1314.0 748.6 L1314.6 747.8 L1315.2 748.7 L1315.8 747.9 L1316.4 748.0 L1317.0 747.4 L1317.6 747.7 L1318.2 747.5 L1318.8 747.3 L1319.4 747.7 L1320.0 748.1 L1320.6 747.0 L1321.2 747.7 L1321.8 748.0 L1322.4 747.7 L1323.0 747.7 L1323.6 749.4 L1324.2 748.3 L1324.8 749.2 L1325.4 748.9 L1326.0 748.3 L1326.6 747.7 L1327.1 748.7 L1327.7 747.6 L1328.3 748.7 L1328.8 747.4 L1329.4 746.8 L1330.0 746.6 L1330.6 747.4 L1331.2 746.0 L1331.8 745.0 L1332.4 744.8 L1332.9 745.0 L1333.5 744.2 L1334.1 745.4 L1334.7 743.7 L1335.3 743.2 L1335.9 745.2 L1336.5 743.1 L1337.1 743.2 L1337.7 744.7 L1338.2 745.2 L1338.8 745.6 L1339.4 746.9 L1340.0 747.5 L1340.6 747.4 L1341.2 747.6 L1341.8 746.8 L1342.4 749.2 L1343.0 748.2 L1343.7 748.3 L1344.3 749.6 L1344.9 750.0 L1345.5 750.5 L1346.1 751.4 L1346.7 751.5 L1347.3 751.3 L1348.0 750.2 L1348.6 750.3 L1349.2 750.2 L1349.8 750.6 L1350.5 749.0 L1351.1 750.5 L1351.7 748.7 L1352.4 748.9 L1353.0 749.1 L1353.6 747.8 L1354.2 746.6 L1354.8 747.6 L1355.3 747.2 L1355.9 747.1 L1356.5 747.0 L1357.1 746.9 L1357.7 746.2 L1358.2 746.4 L1358.8 745.5 L1359.4 746.3 L1360.0 746.1 L1360.6 747.0 L1361.2 746.9 L1361.8 747.3 L1362.4 747.0 L1363.0 748.0 L1363.6 746.9 L1364.2 748.1 L1364.8 748.0 L1365.4 748.8 L1366.0 748.2 L1366.6 748.5 L1367.2 749.3 L1367.8 750.3 L1368.4 748.4 L1369.0 749.6 L1369.6 750.1 L1370.2 749.3 L1370.8 750.4 L1371.4 750.6 L1372.0 750.2 L1372.6 749.7 L1373.2 750.8 L1373.8 750.0 L1374.4 750.2 L1375.0 750.4 L1375.6 750.1 L1376.2 750.9 L1376.8 751.3 L1377.4 750.5 L1378.0 751.3 L1378.6 750.8 L1379.2 751.6 L1379.7 750.4 L1380.3 752.2 L1380.9 751.9 L1381.5 752.1 L1382.1 751.3 L1382.7 750.6 L1383.3 750.9 L1383.9 751.8 L1384.5 751.0 L1385.1 751.7 L1385.7 751.8 L1386.3 751.3 L1386.9 750.5 L1387.5 750.7 L1388.1 751.3 L1388.7 750.6 L1389.3 750.6 L1389.9 751.1 L1390.5 750.6 L1391.1 750.9 L1391.7 750.7 L1392.3 751.8 L1392.9 751.0 L1393.4 750.8 L1394.0 750.5 L1394.6 750.9 L1395.2 750.9 L1395.8 750.9 L1396.4 751.4 L1397.0 751.1 L1397.6 751.1 L1398.2 750.6 L1398.8 750.7 L1399.4 751.6 L1400.0 751.1 L1400.6 750.6 L1401.2 751.4 L1401.8 750.9 L1402.4 751.1 L1403.0 750.7 L1403.6 751.0 L1404.2 751.1 L1404.8 751.5 L1405.4 752.7 L1406.0 750.7 L1406.6 751.4 L1407.2 752.0 L1407.8 750.5 L1408.4 750.3 L1409.0 751.2 L1409.6 752.3 L1410.2 752.1 L1410.8 751.7 L1411.4 752.5 L1412.0 752.7 L1412.6 752.1 L1413.2 752.7 L1413.8 751.6 L1414.4 751.5 L1415.0 752.5 L1415.6 752.3 L1416.1 752.4 L1416.7 752.3 L1417.3 753.2 L1417.9 751.3 L1418.5 753.1 L1419.1 752.4 L1419.7 752.5 L1420.3 751.8 L1420.9 753.0 L1421.5 752.6 L1422.1 752.3 L1422.7 752.7 L1423.3 751.8 L1423.9 751.6 L1424.5 753.1 L1425.1 754.2 L1425.7 752.5 L1426.3 752.7 L1426.9 752.2 L1427.5 752.7 L1428.1 752.2 L1428.7 752.0 L1429.3 752.2 L1429.9 753.2 L1430.5 753.0 L1431.1 752.5 L1431.7 752.5 L1432.3 752.2 L1432.9 751.6 L1433.5 752.4 L1434.1 751.3 L1434.7 750.5 L1435.2 750.6 L1435.8 752.1 L1436.4 750.8 L1437.0 750.9 L1437.6 751.6 L1438.2 751.4 L1438.8 750.8 L1439.4 751.2 L1440.0 749.8 L1440.5 751.2 L1441.1 751.0 L1441.7 751.4 L1442.3 750.6 L1442.9 751.1 L1443.5 752.3 L1444.1 749.8 L1444.7 749.0 L1445.3 749.1 L1445.9 748.5 L1446.6 748.5 L1447.2 747.3 L1447.8 745.6 L1448.4 747.5 L1449.0 745.6 L1449.6 745.6 L1450.2 745.9 L1450.9 744.2 L1451.5 746.0 L1452.1 744.1 L1452.8 744.8 L1453.4 743.9 L1454.0 743.0 L1454.6 744.4 L1455.2 744.9 L1455.9 744.8 L1456.5 745.2 L1457.1 744.7 L1457.8 745.7 L1458.4 744.4 L1459.0 746.0 L1459.6 745.7 L1460.2 746.8 L1460.7 747.6 L1461.3 747.7 L1461.9 748.6 L1462.4 749.1 L1463.0 749.8 L1463.6 750.5 L1464.2 749.8 L1464.7 749.1 L1465.3 749.8 L1465.9 749.7 L1466.4 748.0 L1467.0 747.6 L1467.6 746.2 L1468.1 745.7 L1468.7 746.8 L1469.3 747.2 L1469.9 747.5 L1470.5 747.5 L1471.2 748.2 L1471.8 748.5 L1472.4 748.9 L1473.0 748.1 L1473.6 748.9 L1474.2 750.5 L1474.8 749.9 L1475.4 749.7 L1476.0 750.6 L1476.6 751.2 L1477.2 752.4 L1477.8 750.4 L1478.4 750.8 L1479.0 751.8 L1479.6 751.5 L1480.2 751.9 L1480.8 751.6 L1481.4 750.9 L1482.0 750.7 L1482.6 750.9 L1483.2 751.1 L1483.8 752.0 L1484.4 752.3 L1485.0 751.6 L1485.6 751.2 L1486.2 751.6 L1486.8 752.0 L1487.4 751.8 L1488.0 751.4 L1488.6 752.1 L1489.2 751.2 L1489.8 751.4 L1490.4 751.7 L1491.0 750.9 L1491.6 751.5 L1492.2 752.3 L1492.8 752.0 L1493.4 751.6 L1494.0 751.8 L1494.6 751.1 L1495.2 751.6 L1495.8 752.5 L1496.4 751.8 L1497.0 751.7 L1497.6 752.3 L1498.2 751.6 L1498.8 752.6 L1499.4 751.5 L1500.0 752.0 L1500.6 752.2 L1501.2 751.5 L1501.8 751.7 L1502.4 751.0 L1503.0 752.7 L1503.6 751.6 L1504.2 750.8 L1504.8 752.0 L1505.4 752.7 L1506.0 752.2 L1506.6 752.5 L1507.2 752.4 L1507.7 751.7 L1508.3 752.3 L1508.9 751.4 L1509.5 752.8 L1510.1 752.1 L1510.7 751.5 L1511.3 751.0 L1511.9 751.2 L1512.5 751.5 L1513.1 751.3 L1513.7 750.8 L1514.3 750.9 L1514.9 750.0 L1515.4 751.3 L1516.0 749.9 L1516.6 750.1 L1517.2 749.2 L1517.7 748.1 L1518.3 749.1 L1518.9 748.7 L1519.4 747.4 L1520.0 746.6 L1520.7 745.3 L1521.3 743.0 L1521.9 741.7 L1522.6 740.0 L1523.7 731.7 L1524.9 723.3 L1526.0 715.0 L1527.0 708.3 L1528.0 701.7 L1529.0 695.0 L1530.0 692.0 L1531.0 689.0 L1532.0 686.0 L1533.0 689.7 L1534.0 693.3 L1535.0 697.0 L1536.0 704.8 L1537.0 712.5 L1538.0 720.3 L1538.6 720.7 L1539.1 720.8 L1539.7 721.3 L1540.3 721.5 L1540.9 721.1 L1541.4 721.7 L1542.0 721.6 L1542.6 722.2 L1543.2 722.8 L1543.8 723.0 L1544.4 723.5 L1545.0 723.9 L1545.6 724.2 L1546.2 724.5 L1547.1 727.3 L1548.1 730.2 L1549.0 733.0 L1550.0 736.7 L1551.0 740.3 L1552.0 744.0 L1552.6 745.2 L1553.2 746.4 L1553.8 747.9 L1554.4 749.0 L1555.0 750.4 L1555.6 750.4 L1556.1 751.7 L1556.7 751.1 L1557.3 750.8 L1557.9 751.6 L1558.4 752.0 L1559.0 752.4 L1559.6 750.6 L1560.2 750.6 L1560.8 752.3 L1561.4 751.4 L1562.0 751.9 L1562.6 753.0 L1563.2 751.8 L1563.8 752.7 L1564.4 751.7 L1565.0 750.8 L1565.6 752.8 L1566.2 752.5 L1566.8 751.7 L1567.4 752.3 L1568.0 752.8 L1568.6 752.8 L1569.2 752.7 L1569.8 753.3 L1570.4 753.4 L1571.0 752.6 L1571.6 751.9 L1572.2 752.3 L1572.8 753.3 L1573.4 752.5 L1574.0 752.9 L1574.6 753.1 L1575.2 753.1 L1575.8 753.2 L1576.4 753.1 L1577.0 752.5 L1577.6 753.0 L1578.2 752.8 L1578.8 753.4 L1579.4 753.3 L1580.0 754.2 L1580.6 754.2 L1581.2 753.7 L1581.8 752.5 L1582.4 753.3 L1583.0 754.1 L1583.6 753.8 L1584.2 754.4 L1584.8 754.3 L1585.5 753.0 L1586.1 754.2 L1586.7 753.5 L1587.3 753.9 L1587.9 754.0 L1588.5 753.9 L1589.1 753.7 L1589.7 753.4 L1590.3 752.5 L1590.9 753.5 L1591.5 753.6 L1592.1 754.4 L1592.7 753.5 L1593.3 753.6 L1593.9 753.8 L1594.5 753.4 L1595.2 753.7 L1595.8 753.8 L1596.4 753.6 L1597.0 753.8 L1597.6 753.1 L1598.2 752.4 L1598.8 753.2 L1599.4 753.8 L1600.0 752.5 L1600.6 753.7 L1601.2 753.2 L1601.8 752.0 L1602.4 753.0 L1603.0 753.2 L1603.6 753.0 L1604.2 752.5 L1604.8 753.3 L1605.4 752.6 L1606.0 752.8 L1606.6 753.6 L1607.2 752.9 L1607.8 753.0 L1608.4 753.0 L1609.0 753.2 L1609.6 750.9 L1610.2 751.5 L1610.8 751.9 L1611.4 751.1 L1612.0 751.1 L1612.6 752.1 L1613.2 752.1 L1613.8 751.8 L1614.4 750.8 L1615.0 751.5 L1615.6 751.8 L1616.2 751.9 L1616.8 752.4 L1617.4 752.1 L1617.9 752.2 L1618.5 751.6 L1619.1 753.0 L1619.7 753.4 L1620.3 753.4 L1620.9 753.9 L1621.5 753.7 L1622.1 753.6 L1622.6 754.0 L1623.2 754.0 L1623.8 753.4 L1624.4 753.5 L1625.0 754.1 L1625.6 754.0 L1626.2 754.1 L1626.8 754.5 L1627.4 753.8 L1628.0 753.8 L1628.6 754.0 L1629.2 754.5 L1629.8 754.7 L1630.4 755.1 L1631.0 754.0 L1631.6 754.7 L1632.2 754.7 L1632.8 754.6 L1633.4 754.4 L1634.0 754.4 L1634.6 754.2 L1635.2 754.9 L1635.8 755.2 L1636.4 754.2 L1637.0 754.7 L1637.6 755.1 L1638.2 755.5 L1638.8 754.9 L1639.4 755.0 L1640.0 754.9 L1640.6 753.9 L1641.2 753.3 L1641.8 754.9 L1642.4 755.2 L1643.0 754.7 L1643.6 754.7 L1644.2 754.0 L1644.8 754.4 L1645.4 754.1 L1646.0 755.2 L1646.6 754.1 L1647.2 754.3 L1647.8 754.9 L1648.4 754.4 L1649.0 755.0"/>
<path class="cv" stroke="#f00" stroke-width="7" d="M162.4 815.3 L163.0 816.4 L163.6 814.6 L164.2 815.0 L164.8 814.1 L165.4 814.4 L166.0 814.7 L166.6 809.7 L167.2 813.9 L167.8 814.3 L168.4 814.0 L169.0 813.7 L169.6 814.6 L170.2 812.0 L170.7 812.8 L171.3 813.2 L171.9 810.6 L172.5 810.4 L173.1 810.8 L173.7 809.6 L174.2 810.4 L174.8 814.9 L175.4 812.4 L176.0 811.1 L176.6 813.5 L177.2 812.7 L177.8 812.2 L178.4 814.5 L178.9 812.7 L179.5 812.0 L180.1 812.4 L180.7 815.8 L181.3 814.6 L181.9 815.7 L182.5 816.7 L183.1 817.5 L183.7 817.2 L184.2 815.3 L184.8 817.3 L185.4 814.9 L186.0 814.7 L186.6 813.5 L187.1 815.1 L187.7 815.0 L188.3 814.3 L188.9 818.6 L189.5 818.2 L190.1 817.3 L190.7 821.5 L191.3 819.7 L191.9 820.1 L192.4 822.6 L193.0 824.1 L193.6 824.1 L194.2 824.7 L194.8 824.3 L195.4 827.6 L196.0 825.5 L196.6 825.2 L197.2 825.6 L197.8 822.9 L198.4 825.2 L199.0 825.0 L199.6 822.3 L200.1 823.6 L200.7 823.4 L201.3 824.4 L201.9 822.7 L202.5 824.6 L203.1 823.2 L203.7 822.2 L204.3 822.9 L204.9 823.5 L205.5 822.9 L206.1 825.0 L206.7 825.6 L207.2 826.1 L207.8 827.9 L208.4 825.5 L209.0 826.0 L209.6 829.5 L210.2 830.2 L210.8 826.5 L211.4 826.8 L212.0 827.8 L212.6 827.0 L213.1 827.0 L213.7 825.5 L214.3 827.1 L214.9 827.4 L215.5 825.5 L216.1 827.1 L216.6 828.3 L217.2 825.7 L217.8 826.1 L218.4 825.6 L219.0 826.5 L219.6 826.8 L220.2 825.8 L220.8 826.0 L221.4 825.9 L221.9 827.6 L222.5 829.3 L223.1 830.5 L223.7 829.1 L224.3 831.8 L224.9 832.3 L225.5 833.1 L226.1 832.0 L226.7 832.6 L227.3 832.0 L227.9 832.5 L228.6 831.1 L229.2 828.7 L229.8 830.4 L230.4 831.8 L231.0 826.8 L231.6 828.9 L232.3 826.7 L232.9 826.9 L233.5 829.1 L234.2 827.0 L234.8 827.1 L235.4 827.6 L236.1 828.0 L236.7 829.6 L237.3 828.5 L237.9 828.8 L238.5 827.9 L239.0 828.5 L239.6 831.6 L240.2 829.7 L240.8 829.3 L241.4 828.1 L242.0 829.9 L242.6 831.3 L243.2 828.5 L243.8 830.4 L244.3 831.6 L244.9 830.8 L245.5 833.0 L246.1 831.1 L246.7 831.7 L247.3 831.3 L247.9 833.4 L248.5 832.9 L249.1 833.3 L249.7 830.8 L250.3 834.2 L250.9 832.5 L251.5 829.3 L252.1 830.9 L252.7 832.7 L253.3 831.3 L253.9 830.9 L254.5 835.5 L255.1 834.3 L255.7 833.9 L256.3 834.9 L256.9 832.0 L257.5 832.1 L258.1 835.8 L258.7 833.6 L259.3 834.8 L259.9 838.4 L260.5 836.1 L261.1 835.1 L261.7 839.3 L262.3 838.8 L262.9 837.4 L263.5 835.8 L264.1 840.1 L264.7 836.9 L265.3 836.1 L265.9 833.7 L266.6 835.1 L267.2 835.8 L267.8 835.0 L268.4 837.1 L269.0 838.5 L269.6 835.5 L270.2 834.5 L270.8 836.3 L271.4 838.3 L272.0 837.1 L272.6 837.8 L273.2 838.0 L273.8 837.5 L274.4 837.8 L275.0 838.6 L275.6 836.5 L276.2 836.6 L276.8 836.3 L277.4 835.1 L278.0 835.8 L278.6 836.7 L279.2 836.0 L279.8 835.7 L280.4 835.0 L281.0 837.7 L281.6 836.9 L282.3 839.9 L282.9 839.3 L283.5 838.4 L284.1 838.1 L284.7 837.7 L285.3 837.7 L285.9 836.7 L286.5 838.6 L287.1 838.0 L287.7 839.5 L288.3 841.1 L288.9 839.9 L289.5 838.3 L290.2 837.8 L290.8 840.3 L291.4 840.6 L292.0 838.4 L292.6 835.8 L293.2 836.7 L293.8 837.6 L294.4 836.3 L295.0 841.6 L295.6 838.5 L296.2 840.0 L296.8 839.7 L297.4 839.5 L298.1 842.8 L298.7 840.2 L299.3 840.7 L299.9 839.5 L300.5 839.5 L301.1 840.3 L301.7 839.7 L302.3 842.5 L302.9 842.0 L303.5 841.1 L304.1 842.3 L304.7 843.0 L305.3 842.8 L305.9 842.7 L306.5 840.6 L307.1 842.4 L307.7 841.5 L308.3 840.6 L308.9 841.1 L309.5 840.5 L310.1 842.5 L310.7 839.6 L311.3 841.1 L311.9 840.9 L312.5 842.7 L313.1 839.1 L313.6 838.1 L314.2 840.2 L314.8 840.6 L315.4 840.3 L316.0 844.6 L316.6 845.2 L317.2 839.9 L317.8 843.6 L318.4 843.0 L319.0 844.4 L319.6 844.4 L320.2 843.2 L320.8 844.2 L321.4 846.4 L322.0 846.9 L322.6 844.8 L323.2 844.8 L323.8 847.9 L324.4 844.0 L325.0 842.5 L325.6 846.4 L326.2 845.8 L326.8 846.1 L327.4 846.0 L328.0 846.3 L328.6 843.6 L329.2 844.0 L329.8 845.3 L330.4 847.8 L331.0 845.3 L331.6 846.2 L332.2 845.5 L332.8 845.5 L333.4 842.9 L334.0 844.3 L334.6 840.5 L335.2 846.5 L335.8 842.5 L336.4 845.3 L337.0 845.9 L337.6 843.5 L338.2 842.4 L338.8 842.4 L339.4 845.5 L340.0 843.1 L340.6 845.0 L341.2 845.9 L341.8 843.6 L342.4 848.4 L343.0 846.1 L343.6 846.2 L344.2 848.5 L344.8 845.0 L345.4 845.5 L346.0 846.6 L346.6 844.4 L347.2 845.1 L347.8 844.5 L348.4 845.3 L349.0 846.9 L349.6 846.1 L350.2 845.1 L350.8 843.8 L351.4 844.6 L352.0 845.9 L352.6 845.5 L353.2 847.0 L353.8 847.4 L354.4 845.2 L355.0 847.7 L355.6 845.8 L356.2 844.8 L356.8 845.5 L357.4 847.5 L358.0 846.1 L358.6 848.4 L359.2 849.3 L359.8 849.0 L360.4 846.8 L361.1 848.0 L361.7 847.4 L362.3 847.1 L362.9 849.4 L363.5 848.2 L364.1 845.4 L364.7 845.5 L365.3 844.6 L365.9 848.6 L366.5 848.3 L367.1 851.2 L367.7 848.5 L368.3 847.9 L368.9 850.4 L369.5 850.9 L370.1 851.9 L370.7 850.9 L371.3 850.3 L371.9 850.1 L372.5 850.9 L373.1 848.5 L373.7 851.8 L374.3 849.6 L374.9 848.6 L375.5 849.6 L376.1 848.9 L376.7 847.6 L377.3 847.1 L377.9 849.5 L378.5 849.1 L379.1 850.3 L379.7 848.4 L380.3 845.7 L380.9 849.9 L381.5 850.8 L382.1 849.8 L382.7 851.2 L383.3 848.8 L383.9 849.2 L384.6 848.3 L385.2 851.4 L385.8 851.6 L386.4 847.0 L387.0 848.6 L387.6 849.7 L388.2 851.5 L388.8 850.4 L389.4 851.2 L390.0 851.0 L390.6 850.2 L391.2 850.8 L391.8 849.7 L392.4 851.7 L393.0 851.7 L393.6 851.0 L394.2 851.8 L394.8 854.3 L395.4 851.6 L396.0 852.2 L396.6 852.0 L397.2 853.0 L397.8 852.7 L398.4 852.1 L399.0 851.6 L399.6 851.0 L400.2 851.9 L400.8 851.7 L401.3 850.7 L401.9 850.8 L402.5 850.4 L403.1 850.7 L403.7 848.1 L404.3 851.9 L404.9 851.7 L405.5 852.0 L406.1 852.1 L406.7 851.5 L407.3 851.8 L407.9 851.4 L408.5 853.3 L409.1 851.4 L409.7 851.7 L410.2 853.9 L410.8 851.9 L411.4 850.5 L412.0 853.4 L412.6 852.6 L413.2 850.5 L413.8 849.0 L414.4 849.3 L415.0 847.4 L415.6 847.6 L416.2 845.9 L416.8 847.9 L417.4 846.5 L418.0 847.3 L418.6 846.7 L419.2 844.9 L419.8 845.2 L420.4 845.4 L421.0 848.6 L421.6 845.6 L422.2 845.1 L422.8 844.1 L423.4 845.1 L424.0 846.4 L424.6 842.8 L425.2 843.4 L425.8 845.2 L426.4 844.9 L427.0 844.7 L427.6 843.4 L428.2 847.6 L428.8 846.0 L429.4 844.5 L430.0 845.3 L430.5 846.4 L431.1 847.3 L431.7 846.7 L432.3 848.2 L432.9 846.1 L433.5 847.4 L434.1 847.9 L434.7 847.6 L435.3 850.2 L435.9 846.3 L436.5 847.2 L437.0 846.4 L437.6 849.3 L438.2 847.2 L438.8 849.9 L439.4 846.7 L440.0 847.0 L440.6 846.8 L441.2 847.9 L441.8 848.4 L442.4 848.2 L443.0 849.9 L443.7 847.9 L444.3 846.9 L444.9 849.4 L445.5 848.8 L446.1 850.9 L446.7 850.7 L447.3 850.6 L447.9 850.4 L448.5 851.6 L449.1 849.9 L449.8 849.9 L450.4 848.0 L451.0 850.2 L451.6 849.9 L452.2 849.6 L452.8 848.4 L453.4 848.4 L454.0 850.4 L454.6 850.7 L455.2 850.4 L455.8 848.3 L456.4 848.2 L457.0 846.6 L457.6 848.7 L458.2 844.0 L458.9 842.7 L459.5 847.4 L460.1 845.0 L460.8 846.5 L461.4 843.3 L462.0 843.8 L462.6 843.4 L463.2 844.7 L463.8 847.2 L464.4 846.0 L465.0 844.0 L465.6 844.8 L466.2 848.8 L466.8 847.9 L467.4 848.0 L468.0 849.4 L468.6 848.8 L469.2 847.0 L469.8 850.9 L470.4 850.1 L471.0 847.2 L471.6 848.2 L472.2 848.4 L472.8 848.4 L473.4 849.9 L474.0 851.1 L474.6 849.8 L475.2 847.7 L475.8 848.2 L476.4 849.2 L477.0 848.3 L477.6 849.7 L478.2 849.2 L478.8 846.9 L479.4 849.0 L480.0 846.8 L480.6 845.3 L481.2 848.8 L481.8 844.6 L482.4 844.9 L483.0 844.4 L483.6 844.0 L484.2 844.3 L484.8 844.2 L485.4 841.2 L486.0 843.5 L486.6 842.8 L487.2 845.7 L487.8 843.2 L488.5 845.2 L489.1 845.6 L489.7 845.1 L490.3 845.3 L490.9 844.0 L491.5 845.9 L492.2 846.4 L492.8 846.8 L493.4 847.0 L494.0 847.8 L494.6 845.4 L495.2 846.6 L495.8 844.6 L496.5 846.7 L497.1 845.9 L497.7 845.6 L498.3 845.4 L498.9 846.1 L499.5 845.9 L500.2 847.0 L500.8 845.9 L501.4 846.8 L502.0 847.5 L502.6 845.0 L503.2 847.2 L503.8 847.7 L504.4 846.6 L505.0 847.1 L505.6 845.9 L506.2 845.3 L506.8 844.4 L507.4 844.8 L508.0 843.0 L508.6 843.3 L509.2 844.4 L509.8 842.0 L510.4 844.5 L511.0 843.9 L511.6 846.1 L512.2 845.2 L512.8 843.4 L513.4 844.1 L514.0 843.4 L514.6 844.9 L515.2 844.1 L515.8 844.2 L516.4 844.7 L517.0 844.5 L517.6 841.6 L518.2 844.6 L518.8 844.2 L519.4 844.3 L520.0 844.9 L520.6 844.8 L521.2 845.3 L521.8 843.5 L522.4 842.5 L523.0 843.4 L523.6 843.5 L524.2 842.0 L524.8 843.3 L525.4 842.3 L526.0 843.3 L526.6 845.2 L527.2 841.5 L527.8 842.9 L528.4 843.3 L529.0 843.7 L529.7 842.9 L530.3 845.4 L530.9 841.6 L531.5 843.0 L532.1 841.1 L532.7 840.8 L533.3 842.6 L533.9 843.0 L534.5 843.6 L535.1 840.5 L535.7 840.9 L536.3 840.7 L537.0 839.7 L537.6 837.4 L538.2 840.3 L538.8 838.5 L539.4 840.6 L540.0 840.3 L540.6 839.7 L541.2 837.7 L541.8 837.8 L542.4 835.4 L543.0 838.6 L543.6 838.8 L544.2 837.6 L544.8 836.0 L545.4 836.9 L546.0 837.7 L546.6 836.9 L547.2 836.0 L547.8 838.2 L548.4 837.7 L549.0 835.1 L549.6 836.8 L550.2 836.8 L550.8 835.4 L551.4 835.8 L552.0 836.5 L552.6 834.9 L553.3 835.8 L553.9 836.1 L554.5 837.7 L555.1 835.3 L555.7 838.6 L556.3 836.3 L556.9 837.5 L557.5 834.6 L558.1 835.5 L558.7 835.1 L559.3 835.1 L559.9 835.9 L560.6 834.4 L561.2 835.0 L561.8 832.8 L562.4 833.8 L563.0 834.1 L563.6 834.1 L564.2 834.5 L564.8 830.5 L565.4 833.1 L566.0 830.6 L566.6 832.5 L567.2 833.3 L567.9 832.5 L568.5 830.6 L569.1 834.1 L569.7 833.6 L570.3 830.1 L570.9 835.0 L571.5 832.6 L572.1 832.7 L572.7 832.3 L573.3 832.8 L573.9 834.3 L574.5 832.0 L575.1 829.7 L575.7 828.9 L576.4 830.5 L577.0 829.1 L577.6 832.7 L578.2 831.3 L578.8 832.6 L579.4 829.2 L580.0 832.6 L580.6 831.8 L581.2 835.5 L581.8 832.6 L582.4 835.8 L583.0 834.1 L583.6 831.1 L584.2 834.9 L584.8 834.0 L585.3 831.5 L585.9 836.0 L586.5 835.3 L587.1 834.0 L587.7 833.5 L588.3 832.4 L588.9 832.9 L589.5 833.8 L590.1 830.5 L590.7 834.7 L591.3 832.3 L591.9 832.9 L592.5 834.3 L593.1 832.7 L593.7 831.5 L594.2 833.3 L594.8 831.8 L595.4 834.4 L596.0 834.3 L596.6 833.7 L597.2 834.5 L597.8 830.8 L598.4 830.6 L599.0 832.0 L599.6 831.7 L600.2 833.8 L600.8 832.3 L601.4 834.4 L602.1 835.3 L602.7 833.9 L603.3 832.0 L603.9 831.4 L604.5 831.4 L605.1 833.3 L605.7 832.9 L606.3 831.0 L606.9 830.0 L607.6 831.5 L608.2 831.2 L608.8 830.0 L609.4 828.8 L610.0 832.0 L610.6 828.9 L611.2 832.9 L611.8 831.1 L612.4 831.9 L613.0 831.0 L613.6 832.0 L614.2 831.9 L614.8 832.6 L615.4 835.1 L616.0 836.4 L616.6 832.8 L617.2 833.1 L617.8 832.2 L618.4 832.1 L619.0 831.5 L619.6 832.6 L620.2 833.6 L620.8 831.0 L621.4 832.1 L622.0 830.6 L622.6 831.7 L623.2 830.9 L623.8 831.9 L624.5 834.3 L625.1 833.3 L625.7 833.8 L626.3 834.5 L626.9 834.4 L627.5 836.9 L628.1 837.1 L628.8 836.4 L629.4 839.7 L630.0 837.1 L630.6 838.7 L631.2 840.6 L631.8 838.3 L632.4 841.0 L633.0 837.3 L633.6 835.6 L634.2 838.2 L634.8 839.8 L635.4 840.4 L636.0 843.3 L636.6 840.1 L637.2 840.9 L637.8 841.6 L638.4 842.8 L639.0 840.7 L639.6 839.5 L640.2 841.8 L640.8 845.5 L641.4 842.5 L642.0 839.9 L642.6 842.9 L643.2 844.2 L643.8 844.2 L644.4 843.4 L645.0 844.9 L645.6 848.5 L646.2 847.0 L646.8 846.1 L647.4 845.5 L648.0 845.2 L648.6 846.8 L649.2 844.7 L649.8 846.9 L650.4 845.3 L650.9 844.3 L651.5 845.8 L652.1 847.3 L652.7 846.8 L653.3 846.5 L653.9 847.3 L654.5 848.7 L655.1 846.1 L655.6 847.5 L656.2 846.3 L656.8 846.8 L657.4 846.6 L658.0 848.3 L658.6 847.3 L659.2 845.3 L659.8 848.6 L660.5 848.6 L661.1 847.6 L661.7 844.3 L662.3 846.1 L662.9 846.0 L663.5 844.9 L664.2 845.7 L664.8 842.1 L665.4 845.8 L666.0 842.3 L666.6 843.2 L667.2 843.9 L667.8 844.1 L668.6 838.0 L669.8 832.3 L670.9 826.6 L672.0 822.8 L673.0 819.0 L673.6 817.9 L674.2 816.9 L675.0 817.5 L675.7 819.0 L676.7 824.7 L677.6 830.4 L678.4 838.0 L679.1 845.6 L679.9 851.3 L680.6 857.0 L681.2 858.7 L681.8 860.2 L682.4 863.1 L683.0 863.3 L683.6 865.4 L684.1 864.3 L684.7 865.7 L685.3 867.1 L685.9 867.2 L686.4 868.2 L687.0 866.7 L687.6 871.8 L688.1 866.8 L688.7 870.2 L689.3 867.7 L689.9 869.1 L690.4 867.9 L691.0 867.8 L691.6 869.8 L692.2 867.3 L692.8 869.6 L693.4 870.2 L694.0 865.8 L694.6 866.9 L695.2 865.7 L695.8 866.5 L696.4 866.5 L697.0 865.4 L697.6 863.5 L698.1 864.9 L698.7 863.9 L699.3 862.7 L699.9 864.3 L700.4 861.9 L701.0 865.3 L701.6 863.9 L702.2 862.1 L702.8 860.8 L702.9 853.2 L704.3 838.0 L705.1 830.4 L705.9 822.8 L706.9 819.5 L708.0 834.2 L708.8 843.7 L709.5 853.2 L710.6 864.6 L711.2 866.4 L711.9 867.2 L712.5 866.8 L713.1 870.5 L713.7 869.4 L714.2 870.0 L714.8 869.6 L715.4 869.8 L716.0 872.2 L716.6 869.8 L717.2 872.6 L717.8 871.0 L718.4 874.6 L719.0 873.2 L719.6 873.6 L720.1 873.6 L720.7 874.8 L721.3 874.1 L721.9 873.3 L722.5 874.3 L723.1 876.1 L723.7 877.4 L724.3 877.5 L724.9 879.0 L725.5 881.6 L726.0 880.2 L726.6 880.2 L727.2 880.2 L727.8 880.3 L728.4 877.6 L729.0 880.5 L729.5 881.4 L730.1 881.8 L730.7 883.1 L731.3 882.6 L731.9 881.6 L732.4 881.5 L733.0 880.1 L733.5 880.9 L734.1 881.4 L734.7 883.6 L735.2 883.8 L735.8 881.7 L736.4 880.9 L737.0 879.8 L737.5 882.5 L738.1 881.3 L738.7 881.1 L739.3 881.7 L739.8 883.4 L740.4 882.9 L741.0 883.8 L741.6 883.4 L742.2 883.1 L742.8 884.2 L743.4 884.5 L744.1 884.4 L744.7 885.5 L745.3 883.0 L745.9 884.8 L746.5 882.5 L747.1 884.3 L747.7 883.7 L748.3 883.4 L748.9 884.8 L749.5 885.6 L750.1 885.6 L750.7 886.6 L751.3 885.5 L751.9 886.6 L752.5 885.8 L753.1 886.4 L753.7 886.1 L754.3 886.8 L754.9 886.1 L755.5 889.1 L756.1 886.7 L756.7 887.2 L757.3 888.6 L757.9 887.2 L758.5 887.6 L759.1 887.2 L759.7 887.0 L760.3 886.9 L760.9 888.2 L761.5 888.3 L762.0 887.2 L762.6 886.5 L763.2 886.5 L763.8 887.9 L764.4 888.3 L765.0 889.3 L765.6 888.2 L766.2 887.0 L766.8 888.2 L767.4 888.2 L768.1 887.3 L768.7 887.8 L769.3 890.1 L769.9 887.8 L770.5 888.8 L771.1 889.3 L771.7 889.5 L772.3 889.4 L772.9 888.5 L773.6 886.8 L774.2 889.1 L774.8 889.0 L775.4 888.9 L776.0 889.5 L776.6 888.7 L777.2 890.1 L777.8 890.6 L778.3 891.2 L778.9 890.2 L779.5 888.7 L780.1 889.7 L780.7 890.3 L781.2 889.3 L781.8 889.1 L782.4 889.4 L783.0 889.9 L783.6 889.1 L784.2 888.2 L784.8 890.5 L785.3 890.9 L785.9 887.9 L786.5 887.8 L787.1 886.3 L787.6 885.0 L788.2 883.0 L789.0 880.8 L789.7 878.5 L790.6 872.0 L791.6 864.0 L792.6 854.0 L793.6 836.0 L794.6 800.0 L794.9 779.0 L796.2 697.6 L797.1 658.1 L798.1 618.5 L799.0 579.0 L800.0 559.0 L801.0 546.8 L802.0 534.5 L802.9 522.2 L803.9 510.0 L804.7 510.0 L806.0 559.0 L806.4 579.0 L807.4 638.3 L808.4 697.6 L808.5 779.0 L809.4 800.0 L810.4 835.0 L811.4 857.0 L812.4 871.0 L813.4 878.0 L814.1 879.3 L814.8 881.1 L815.5 882.0 L816.3 884.4 L816.9 885.0 L817.4 886.1 L818.0 885.7 L818.6 886.8 L819.1 887.2 L819.7 885.6 L820.3 888.6 L820.9 887.7 L821.4 888.6 L822.0 890.3 L822.6 890.1 L823.1 889.7 L823.7 890.8 L824.2 892.2 L824.8 892.2 L825.4 892.5 L825.9 890.9 L826.5 894.1 L827.1 892.9 L827.7 892.6 L828.3 892.6 L828.9 891.1 L829.5 890.7 L830.1 891.2 L830.8 892.7 L831.4 891.4 L832.0 891.5 L832.6 890.8 L833.2 891.5 L833.8 890.7 L834.4 890.1 L835.0 889.1 L835.6 892.2 L836.2 890.2 L836.8 890.3 L837.4 888.6 L838.1 889.3 L838.7 888.5 L839.3 889.5 L839.9 889.1 L840.5 889.9 L841.1 890.1 L841.7 890.3 L842.3 889.1 L842.9 889.0 L843.6 888.8 L844.2 889.1 L844.8 889.0 L845.4 888.4 L846.0 887.4 L846.6 888.7 L847.2 890.4 L847.8 890.0 L848.4 891.5 L849.0 891.0 L849.6 890.7 L850.2 891.6 L850.8 892.5 L851.4 892.3 L852.0 893.2 L852.6 893.1 L853.2 893.7 L853.8 892.9 L854.4 892.8 L855.0 893.2 L855.6 894.6 L856.2 893.1 L856.8 893.5 L857.4 892.9 L858.1 894.3 L858.7 893.9 L859.3 894.2 L859.9 893.5 L860.5 896.3 L861.1 896.5 L861.7 894.1 L862.3 894.6 L862.9 893.4 L863.6 893.6 L864.2 895.2 L864.8 895.9 L865.4 894.9 L866.0 896.1 L866.6 895.7 L867.2 894.8 L867.8 896.0 L868.4 893.3 L869.0 895.6 L869.6 895.5 L870.2 894.3 L870.8 894.5 L871.4 894.5 L872.0 892.7 L872.6 892.3 L873.2 891.6 L873.8 892.2 L874.4 893.4 L875.0 890.9 L875.5 889.8 L876.1 890.3 L876.7 891.0 L877.3 890.2 L877.9 889.9 L878.5 889.5 L879.0 890.5 L879.6 889.6 L880.2 890.4 L880.7 891.0 L881.3 890.7 L881.9 892.3 L882.4 893.2 L883.0 891.9 L883.6 894.0 L884.2 892.5 L884.8 894.0 L885.4 895.3 L885.9 893.9 L886.5 895.4 L887.1 895.7 L887.7 898.1 L888.3 897.4 L888.9 898.4 L889.5 897.6 L890.2 899.0 L890.8 898.8 L891.4 899.3 L892.0 898.7 L892.6 898.5 L893.2 899.7 L893.9 899.4 L894.5 900.6 L895.1 899.5 L895.7 899.5 L896.3 899.0 L896.9 900.1 L897.5 901.0 L898.2 900.4 L898.8 900.7 L899.4 901.9 L900.0 902.8 L900.6 901.4 L901.2 900.9 L901.8 901.2 L902.4 899.1 L903.0 899.8 L903.6 900.4 L904.2 900.7 L904.8 900.1 L905.5 900.9 L906.1 901.3 L906.7 900.8 L907.3 901.8 L907.9 900.7 L908.5 900.8 L909.1 901.5 L909.7 901.6 L910.3 901.9 L910.9 899.9 L911.5 900.9 L912.1 901.2 L912.7 902.0 L913.3 901.0 L913.9 901.5 L914.5 900.8 L915.2 900.6 L915.8 899.8 L916.4 899.7 L917.0 900.6 L917.6 899.6 L918.2 901.0 L918.8 900.3 L919.4 899.8 L920.0 900.3 L920.6 899.8 L921.2 899.5 L921.8 901.2 L922.4 902.1 L922.9 900.8 L923.5 901.7 L924.1 901.7 L924.7 901.8 L925.3 901.7 L925.9 901.2 L926.5 900.6 L927.1 900.8 L927.6 902.1 L928.2 901.1 L928.8 900.4 L929.4 902.9 L930.0 903.5 L930.6 902.0 L931.2 902.7 L931.8 902.9 L932.4 903.0 L932.9 902.5 L933.5 903.8 L934.1 904.1 L934.7 903.1 L935.3 903.2 L935.9 903.0 L936.5 903.5 L937.1 903.0 L937.6 904.1 L938.2 903.2 L938.8 902.4 L939.4 903.2 L940.0 903.4 L940.6 903.2 L941.2 905.5 L941.9 904.7 L942.5 905.3 L943.1 905.7 L943.8 904.7 L944.4 907.3 L945.0 906.6 L945.6 906.4 L946.2 905.7 L946.9 906.0 L947.5 906.1 L948.1 906.3 L948.8 905.0 L949.4 905.5 L950.0 904.1 L950.6 905.3 L951.2 904.6 L951.8 905.1 L952.4 904.4 L953.0 904.2 L953.6 904.3 L954.2 904.0 L954.9 902.3 L955.5 904.1 L956.1 902.9 L956.7 903.6 L957.3 903.6 L957.9 902.4 L958.5 903.2 L959.1 903.3 L959.7 904.7 L960.3 903.6 L960.9 903.9 L961.5 904.2 L962.1 903.6 L962.8 903.3 L963.4 903.2 L964.0 904.4 L964.6 903.6 L965.2 902.3 L965.8 902.0 L966.4 904.2 L967.0 903.5 L967.6 903.8 L968.2 903.6 L968.8 902.1 L969.4 903.4 L970.0 903.9 L970.6 902.0 L971.2 903.1 L971.8 902.5 L972.4 902.3 L973.0 903.5 L973.6 903.5 L974.2 902.4 L974.8 902.3 L975.4 902.4 L976.0 903.1 L976.6 902.4 L977.2 901.7 L977.8 902.5 L978.4 903.4 L979.0 904.0 L979.6 903.9 L980.2 902.5 L980.8 902.7 L981.4 902.0 L982.0 901.9 L982.6 903.8 L983.2 902.5 L983.8 903.9 L984.4 902.6 L985.0 904.3 L985.6 904.1 L986.2 904.2 L986.8 903.6 L987.4 901.8 L988.0 902.7 L988.6 903.1 L989.2 903.2 L989.8 902.5 L990.4 901.6 L991.0 902.1 L991.6 902.1 L992.2 901.2 L992.8 901.6 L993.4 901.2 L994.0 900.7 L994.6 900.8 L995.2 899.7 L995.8 901.5 L996.4 900.5 L997.0 902.0 L997.6 902.3 L998.2 903.3 L998.8 902.7 L999.4 903.3 L1000.0 902.3 L1000.6 901.7 L1001.2 902.5 L1001.8 901.2 L1002.4 901.7 L1003.0 902.3 L1003.6 902.8 L1004.2 902.9 L1004.8 901.3 L1005.4 902.0 L1006.0 902.1 L1006.6 900.9 L1007.2 902.1 L1007.8 902.3 L1008.4 902.6 L1009.0 901.0 L1009.6 902.4 L1010.2 901.7 L1010.8 901.5 L1011.4 901.4 L1012.0 899.6 L1012.6 901.1 L1013.2 899.3 L1013.8 900.3 L1014.4 900.1 L1015.0 901.2 L1015.6 901.7 L1016.2 902.6 L1016.8 902.3 L1017.4 900.6 L1018.0 899.3 L1018.6 900.2 L1019.2 900.4 L1019.8 899.3 L1020.4 899.6 L1021.0 899.7 L1021.6 899.4 L1022.2 901.1 L1022.8 900.3 L1023.4 901.7 L1024.0 901.5 L1024.6 901.4 L1025.2 901.5 L1025.8 902.2 L1026.4 900.5 L1027.0 901.4 L1027.6 900.9 L1028.2 901.4 L1028.8 901.3 L1029.4 901.3 L1030.0 901.1 L1030.6 901.1 L1031.2 900.7 L1031.8 901.7 L1032.4 900.9 L1033.0 901.9 L1033.6 901.4 L1034.2 901.8 L1034.8 902.0 L1035.4 901.8 L1036.0 901.0 L1036.6 901.0 L1037.2 901.7 L1037.8 901.3 L1038.4 900.6 L1039.0 901.3 L1039.6 901.0 L1040.2 902.6 L1040.8 902.5 L1041.4 902.1 L1042.0 902.1 L1042.6 901.3 L1043.2 901.2 L1043.8 901.5 L1044.4 901.7 L1045.0 901.5 L1045.6 901.4 L1046.2 900.3 L1046.8 901.7 L1047.4 900.9 L1048.0 900.6 L1048.6 900.2 L1049.2 900.2 L1049.8 899.8 L1050.4 899.7 L1051.0 899.9 L1051.6 900.6 L1052.2 900.2 L1052.8 900.0 L1053.3 899.9 L1053.9 900.6 L1054.5 900.5 L1055.1 900.0 L1055.7 900.2 L1056.3 900.1 L1056.9 899.9 L1057.5 899.7 L1058.1 899.6 L1058.7 899.7 L1059.3 899.7 L1059.9 899.6 L1060.5 899.5 L1061.8 895.8 L1063.0 892.0 L1064.0 887.5 L1065.0 883.0 L1065.7 882.5 L1066.3 882.2 L1066.9 881.9 L1067.6 881.9 L1068.2 882.0 L1068.8 882.9 L1069.4 883.7 L1070.0 884.0 L1071.0 887.0 L1072.0 890.0 L1073.0 893.0 L1073.6 893.8 L1074.1 894.7 L1074.7 895.5 L1075.3 896.6 L1075.9 897.3 L1076.4 898.2 L1077.0 898.8 L1077.6 899.1 L1078.2 898.7 L1078.8 898.9 L1079.4 900.2 L1080.0 897.9 L1080.6 897.8 L1081.2 898.8 L1081.8 897.8 L1082.4 899.1 L1083.1 898.1 L1083.7 897.7 L1084.3 898.1 L1084.9 897.1 L1085.5 898.5 L1086.1 897.3 L1086.7 898.2 L1087.3 897.7 L1087.9 897.2 L1088.5 899.2 L1089.1 898.6 L1089.7 898.0 L1090.3 899.3 L1090.9 898.5 L1091.5 899.3 L1092.1 898.5 L1092.7 898.2 L1093.3 898.6 L1093.9 898.9 L1094.6 899.2 L1095.2 898.7 L1095.8 898.3 L1096.4 898.3 L1097.0 899.7 L1097.6 899.5 L1098.2 898.3 L1098.8 898.5 L1099.4 899.1 L1100.0 899.5 L1100.6 899.9 L1101.2 899.5 L1101.8 899.8 L1102.4 899.7 L1103.0 899.1 L1103.6 898.4 L1104.2 897.9 L1104.8 896.5 L1105.4 897.5 L1106.0 896.8 L1106.6 896.7 L1107.2 896.8 L1107.8 896.7 L1108.4 896.0 L1109.0 898.1 L1109.6 896.5 L1110.2 897.7 L1110.8 897.7 L1111.4 896.6 L1112.0 897.0 L1112.6 897.8 L1113.2 897.3 L1113.8 896.4 L1114.4 896.4 L1115.0 898.0 L1115.6 896.5 L1116.2 897.4 L1116.8 897.6 L1117.4 896.9 L1118.0 896.5 L1118.6 894.8 L1119.2 896.6 L1119.8 895.0 L1120.4 896.7 L1121.0 895.6 L1121.6 897.1 L1122.2 896.2 L1122.8 896.0 L1123.4 894.6 L1124.0 895.4 L1124.6 897.8 L1125.2 896.7 L1125.8 897.3 L1126.4 897.9 L1127.0 896.9 L1127.6 897.0 L1128.2 896.1 L1128.8 897.7 L1129.4 897.0 L1130.0 897.3 L1130.6 896.3 L1131.2 897.6 L1131.8 896.7 L1132.4 897.3 L1133.0 897.7 L1133.6 896.6 L1134.2 897.8 L1134.8 896.7 L1135.4 895.8 L1136.0 897.4 L1136.7 896.3 L1137.3 897.9 L1137.9 896.8 L1138.5 897.4 L1139.1 896.9 L1139.7 896.5 L1140.3 898.3 L1140.9 896.7 L1141.5 895.8 L1142.1 896.4 L1142.7 896.3 L1143.3 895.8 L1143.9 896.7 L1144.5 896.7 L1145.1 896.6 L1145.7 897.5 L1146.3 896.5 L1146.9 895.9 L1147.5 896.7 L1148.1 895.6 L1148.7 895.7 L1149.3 895.9 L1150.0 896.0 L1150.6 896.6 L1151.2 896.2 L1151.8 896.3 L1152.4 897.4 L1153.0 896.9 L1153.6 896.9 L1154.2 896.5 L1154.8 899.0 L1155.4 898.2 L1156.0 898.1 L1156.6 898.6 L1157.2 898.7 L1157.8 899.0 L1158.4 897.8 L1159.0 898.5 L1159.6 898.6 L1160.2 898.6 L1160.8 898.5 L1161.3 898.1 L1161.9 897.3 L1162.5 897.1 L1163.1 896.7 L1163.7 897.8 L1164.3 898.1 L1164.9 896.2 L1165.5 897.6 L1166.1 896.9 L1166.7 897.0 L1167.3 897.2 L1167.9 898.2 L1168.5 898.0 L1169.1 897.6 L1169.7 897.6 L1170.2 896.9 L1170.8 897.7 L1171.4 897.8 L1172.0 898.1 L1172.6 898.3 L1173.2 897.6 L1173.8 896.0 L1174.4 896.3 L1175.0 896.8 L1175.6 896.4 L1176.2 895.4 L1176.8 895.9 L1177.4 896.5 L1178.0 897.8 L1178.5 895.6 L1179.1 897.3 L1179.7 896.7 L1180.3 897.8 L1180.9 896.9 L1181.5 896.7 L1182.1 897.6 L1182.7 897.4 L1183.3 898.5 L1183.8 897.2 L1184.4 897.5 L1185.0 897.2 L1185.6 895.8 L1186.2 895.7 L1186.8 895.3 L1187.3 895.5 L1187.9 894.5 L1188.5 896.5 L1189.0 895.5 L1189.6 895.1 L1190.2 893.9 L1190.8 895.1 L1191.4 892.8 L1192.0 894.2 L1192.7 893.5 L1193.3 893.6 L1194.0 893.6 L1194.5 892.6 L1195.1 891.4 L1195.6 890.5 L1196.4 883.6 L1197.3 876.8 L1198.2 870.0 L1199.0 863.1 L1200.2 849.4 L1201.0 835.8 L1201.9 822.0 L1202.7 808.4 L1203.4 797.5 L1204.0 789.5 L1205.0 786.5 L1205.8 787.6 L1206.5 788.4 L1207.2 789.4 L1208.0 790.5 L1209.2 784.0 L1210.2 772.0 L1211.0 766.5 L1211.8 761.0 L1212.6 758.1 L1213.4 755.3 L1214.3 761.0 L1214.9 767.4 L1216.2 794.7 L1217.5 822.0 L1218.8 849.4 L1219.6 863.1 L1220.9 876.8 L1221.7 883.6 L1222.5 890.5 L1223.5 893.9 L1224.6 897.3 L1225.2 898.1 L1225.7 898.5 L1226.3 898.7 L1226.9 898.7 L1227.4 899.6 L1228.0 899.5 L1228.6 899.7 L1229.2 898.4 L1229.8 900.2 L1230.4 899.0 L1231.0 898.4 L1231.6 901.2 L1232.2 900.4 L1232.8 901.4 L1233.4 900.4 L1234.0 900.5 L1234.6 900.8 L1235.2 900.5 L1235.8 900.8 L1236.4 901.7 L1237.0 901.4 L1237.6 901.6 L1238.2 901.4 L1238.8 901.8 L1239.4 901.5 L1240.0 902.4 L1240.6 901.9 L1241.2 901.6 L1241.8 901.2 L1242.4 900.9 L1243.0 902.1 L1243.6 901.8 L1244.2 901.5 L1244.8 900.7 L1245.4 901.5 L1246.0 901.1 L1246.6 902.5 L1247.2 903.1 L1247.8 902.2 L1248.4 901.3 L1249.0 903.8 L1249.6 903.5 L1250.2 903.4 L1250.8 902.4 L1251.4 903.5 L1252.0 903.3 L1252.7 903.1 L1253.3 902.0 L1253.9 902.0 L1254.5 901.7 L1255.1 902.3 L1255.7 902.7 L1256.3 902.2 L1256.9 902.0 L1257.5 901.5 L1258.1 902.5 L1258.7 902.0 L1259.3 902.0 L1259.9 902.3 L1260.5 903.3 L1261.1 903.2 L1261.7 901.9 L1262.3 902.7 L1262.9 902.5 L1263.5 900.6 L1264.1 902.7 L1264.7 902.7 L1265.3 901.5 L1265.9 901.2 L1266.5 902.7 L1267.1 901.4 L1267.7 901.0 L1268.3 901.5 L1268.9 902.5 L1269.5 901.0 L1270.1 902.6 L1270.7 900.6 L1271.3 901.7 L1271.9 901.5 L1272.5 902.6 L1273.1 901.4 L1273.7 901.4 L1274.3 901.7 L1274.9 902.8 L1275.5 900.1 L1276.1 900.4 L1276.7 901.8 L1277.3 902.8 L1278.0 902.2 L1278.6 903.0 L1279.2 902.1 L1279.8 903.5 L1280.4 903.3 L1281.0 903.2 L1281.6 902.4 L1282.2 903.9 L1282.8 903.7 L1283.4 903.7 L1284.0 904.9 L1284.6 903.5 L1285.2 905.2 L1285.8 903.4 L1286.4 903.3 L1287.0 905.5 L1287.6 904.4 L1288.2 903.3 L1288.8 904.6 L1289.4 903.9 L1290.0 902.6 L1290.6 904.0 L1291.2 905.0 L1291.8 903.9 L1292.4 904.1 L1293.0 904.6 L1293.6 903.5 L1294.2 904.6 L1294.8 903.8 L1295.4 902.7 L1296.0 902.0 L1296.6 904.2 L1297.2 904.1 L1297.8 903.4 L1298.4 903.9 L1299.0 904.2 L1299.6 904.1 L1300.2 904.3 L1300.8 903.2 L1301.4 903.2 L1302.0 903.7 L1302.6 903.7 L1303.2 903.2 L1303.8 902.5 L1304.4 902.9 L1305.0 902.0 L1305.6 902.8 L1306.2 902.6 L1306.8 902.9 L1307.4 903.0 L1308.0 903.5 L1308.6 902.4 L1309.2 903.4 L1309.8 902.3 L1310.4 901.5 L1311.0 903.1 L1311.6 903.0 L1312.2 903.6 L1312.8 904.2 L1313.4 903.9 L1314.0 902.8 L1314.6 904.2 L1315.2 904.6 L1315.8 904.9 L1316.4 904.6 L1317.0 905.6 L1317.6 904.7 L1318.2 905.6 L1318.8 905.4 L1319.4 905.2 L1320.0 904.8 L1320.6 905.9 L1321.2 905.6 L1321.8 904.6 L1322.4 905.4 L1323.0 903.9 L1323.6 904.5 L1324.2 904.3 L1324.8 904.7 L1325.4 904.4 L1326.0 903.9 L1326.6 906.4 L1327.2 905.8 L1327.8 904.6 L1328.4 906.3 L1329.0 906.5 L1329.6 906.6 L1330.2 906.0 L1330.8 906.3 L1331.5 906.3 L1332.1 906.2 L1332.7 905.2 L1333.3 905.3 L1333.9 904.5 L1334.5 904.3 L1335.1 904.5 L1335.7 905.4 L1336.3 905.5 L1336.9 905.6 L1337.5 906.2 L1338.1 907.2 L1338.7 906.4 L1339.3 906.7 L1339.9 907.1 L1340.5 906.8 L1341.1 907.7 L1341.7 907.3 L1342.3 907.3 L1342.9 906.3 L1343.6 906.3 L1344.2 906.4 L1344.8 906.1 L1345.4 907.5 L1346.0 906.5 L1346.6 906.4 L1347.2 906.9 L1347.8 907.0 L1348.4 906.4 L1349.0 906.5 L1349.6 906.5 L1350.2 905.2 L1350.8 905.9 L1351.4 905.7 L1352.0 904.8 L1352.6 904.3 L1353.2 904.3 L1353.8 904.1 L1354.4 902.7 L1355.0 904.0 L1355.6 902.5 L1356.2 903.2 L1356.7 903.8 L1357.3 906.0 L1357.9 906.3 L1358.4 904.1 L1359.0 905.2 L1359.6 905.8 L1360.1 906.7 L1360.7 906.2 L1361.3 907.6 L1361.9 908.5 L1362.4 908.4 L1363.0 909.2 L1363.6 909.9 L1364.2 909.3 L1364.8 909.6 L1365.4 908.0 L1366.0 908.3 L1366.6 906.8 L1367.2 907.6 L1367.8 907.1 L1368.4 907.0 L1369.0 906.9 L1369.6 906.9 L1370.2 905.9 L1370.8 907.2 L1371.4 907.6 L1372.0 906.4 L1372.5 907.8 L1373.1 907.7 L1373.7 907.7 L1374.3 907.1 L1374.9 907.4 L1375.5 906.5 L1376.1 907.6 L1376.7 907.0 L1377.3 906.5 L1377.9 907.7 L1378.5 907.9 L1379.1 907.6 L1379.7 907.4 L1380.3 906.6 L1380.9 906.6 L1381.5 907.3 L1382.1 907.9 L1382.7 908.2 L1383.3 907.3 L1383.9 908.4 L1384.5 907.3 L1385.1 908.7 L1385.7 909.4 L1386.3 908.9 L1386.9 909.5 L1387.5 908.9 L1388.1 909.4 L1388.7 908.9 L1389.3 909.7 L1389.9 910.0 L1390.5 909.4 L1391.0 910.0 L1391.6 909.3 L1392.2 908.9 L1392.8 908.4 L1393.4 907.4 L1394.0 908.0 L1394.6 906.8 L1395.2 907.4 L1395.8 906.7 L1396.4 906.8 L1397.0 906.7 L1397.6 907.7 L1398.2 907.3 L1398.8 907.9 L1399.4 907.9 L1400.0 907.9 L1400.6 907.6 L1401.2 909.2 L1401.8 908.4 L1402.4 908.5 L1403.0 909.3 L1403.6 909.2 L1404.2 908.5 L1404.8 908.5 L1405.4 910.3 L1406.0 908.0 L1406.6 909.1 L1407.2 909.1 L1407.8 908.5 L1408.4 908.9 L1409.0 908.0 L1409.6 908.1 L1410.2 909.1 L1410.8 907.3 L1411.4 908.8 L1412.0 908.1 L1412.6 907.8 L1413.2 907.8 L1413.8 907.0 L1414.4 908.9 L1415.0 908.3 L1415.6 909.3 L1416.1 907.5 L1416.7 908.2 L1417.3 908.4 L1417.9 907.4 L1418.5 908.4 L1419.1 907.1 L1419.7 908.1 L1420.3 908.1 L1420.9 908.9 L1421.5 908.7 L1422.1 908.8 L1422.7 908.3 L1423.3 907.7 L1423.9 908.1 L1424.5 907.6 L1425.1 908.1 L1425.7 909.1 L1426.3 908.7 L1426.9 908.1 L1427.5 908.5 L1428.1 909.4 L1428.7 907.7 L1429.3 907.6 L1429.9 908.3 L1430.5 908.3 L1431.1 908.0 L1431.7 907.5 L1432.3 907.6 L1432.9 908.9 L1433.5 909.3 L1434.1 909.0 L1434.7 909.5 L1435.3 910.2 L1435.9 909.9 L1436.5 910.5 L1437.1 910.0 L1437.7 910.2 L1438.3 909.3 L1438.9 909.0 L1439.5 908.7 L1440.1 909.0 L1440.7 908.2 L1441.3 908.3 L1441.9 910.5 L1442.5 909.1 L1443.1 909.0 L1443.6 909.8 L1444.2 909.7 L1444.8 910.0 L1445.4 908.6 L1446.0 909.2 L1446.6 909.2 L1447.2 909.0 L1447.8 907.3 L1448.4 907.3 L1449.0 907.7 L1449.6 907.7 L1450.2 907.0 L1450.8 908.2 L1451.4 907.5 L1452.0 906.0 L1452.6 907.2 L1453.2 907.0 L1453.8 906.9 L1454.4 906.9 L1455.0 907.8 L1455.6 907.5 L1456.2 906.9 L1456.9 906.2 L1457.5 906.6 L1458.1 904.4 L1458.8 904.6 L1459.4 904.7 L1460.0 904.1 L1460.6 904.2 L1461.2 905.2 L1461.8 904.1 L1462.3 904.8 L1462.9 904.6 L1463.5 904.4 L1464.1 904.7 L1464.7 903.5 L1465.3 904.3 L1465.9 904.6 L1466.5 903.9 L1467.2 903.9 L1467.8 905.0 L1468.4 904.9 L1469.0 905.2 L1469.6 906.6 L1470.2 906.4 L1470.9 907.1 L1471.5 907.2 L1472.1 907.8 L1472.8 907.1 L1473.4 909.2 L1474.0 909.0 L1474.6 910.2 L1475.2 909.0 L1475.8 909.4 L1476.4 908.5 L1477.0 909.4 L1477.6 909.1 L1478.2 909.8 L1478.8 911.0 L1479.4 909.6 L1480.0 908.7 L1480.7 909.2 L1481.3 909.7 L1481.9 909.7 L1482.5 910.1 L1483.1 909.7 L1483.7 909.3 L1484.3 909.8 L1484.9 909.8 L1485.5 909.9 L1486.1 909.4 L1486.7 909.3 L1487.3 910.7 L1487.9 909.6 L1488.5 909.8 L1489.1 910.4 L1489.7 910.3 L1490.3 911.3 L1490.9 910.4 L1491.5 909.7 L1492.1 910.7 L1492.7 908.9 L1493.3 909.2 L1494.0 908.3 L1494.6 909.6 L1495.2 910.5 L1495.8 911.0 L1496.4 909.8 L1497.0 910.0 L1497.6 910.8 L1498.2 911.0 L1498.8 912.2 L1499.4 910.2 L1500.0 911.3 L1500.6 912.4 L1501.2 911.1 L1501.8 911.0 L1502.4 912.6 L1503.0 911.8 L1503.6 912.4 L1504.2 911.3 L1504.8 910.7 L1505.4 910.2 L1506.0 911.1 L1506.6 911.3 L1507.2 910.9 L1507.7 910.8 L1508.3 910.8 L1508.9 911.2 L1509.5 910.5 L1510.1 912.4 L1510.7 910.4 L1511.3 910.4 L1511.9 910.5 L1512.5 911.1 L1513.1 910.3 L1513.7 908.4 L1514.3 908.9 L1514.9 908.6 L1515.5 909.1 L1516.1 910.0 L1516.7 908.6 L1517.2 909.4 L1517.8 907.9 L1518.4 908.3 L1519.0 909.1 L1519.6 907.3 L1520.2 905.3 L1520.8 904.5 L1521.4 903.2 L1522.0 901.3 L1522.6 900.0 L1523.6 897.0 L1524.5 894.0 L1525.5 891.0 L1526.1 890.5 L1526.7 890.2 L1527.3 889.8 L1527.9 888.9 L1528.5 889.0 L1529.1 889.2 L1529.8 888.7 L1530.4 888.4 L1531.0 888.5 L1531.6 888.8 L1532.2 887.3 L1532.9 887.8 L1533.5 888.8 L1534.1 887.8 L1534.8 887.6 L1535.4 888.8 L1536.0 887.7 L1536.6 888.4 L1537.2 887.1 L1537.8 887.0 L1538.4 885.7 L1539.0 885.1 L1539.6 884.2 L1540.2 884.7 L1540.8 882.2 L1541.4 881.9 L1542.0 881.1 L1542.6 883.3 L1543.2 884.1 L1543.9 884.5 L1544.5 886.0 L1545.5 893.0 L1546.5 900.0 L1547.5 903.4 L1548.6 906.8 L1549.2 907.6 L1549.7 908.4 L1550.3 909.5 L1550.9 909.6 L1551.4 911.1 L1552.0 913.4 L1552.6 911.6 L1553.2 912.6 L1553.8 912.9 L1554.4 912.5 L1555.0 912.4 L1555.6 912.3 L1556.2 912.9 L1556.8 911.8 L1557.4 913.5 L1558.0 912.4 L1558.6 912.0 L1559.2 911.7 L1559.8 911.8 L1560.4 912.4 L1561.0 912.8 L1561.6 911.9 L1562.2 911.4 L1562.8 912.7 L1563.4 913.8 L1564.0 913.3 L1564.6 913.7 L1565.2 914.6 L1565.8 914.7 L1566.4 913.4 L1567.0 913.0 L1567.6 911.7 L1568.2 912.9 L1568.8 911.9 L1569.4 913.1 L1570.0 913.3 L1570.6 913.9 L1571.2 913.8 L1571.8 913.7 L1572.4 913.1 L1573.0 913.5 L1573.6 912.8 L1574.2 913.3 L1574.8 913.5 L1575.4 913.4 L1576.0 912.6 L1576.6 913.1 L1577.2 914.6 L1577.8 913.6 L1578.4 914.0 L1579.0 914.2 L1579.6 914.8 L1580.2 914.0 L1580.8 913.7 L1581.4 914.7 L1582.0 914.2 L1582.6 913.6 L1583.2 914.7 L1583.8 913.5 L1584.4 912.8 L1585.0 913.6 L1585.6 913.2 L1586.2 913.6 L1586.8 913.4 L1587.4 913.1 L1588.0 912.4 L1588.6 913.5 L1589.2 913.0 L1589.8 913.5 L1590.4 913.7 L1591.0 913.5 L1591.6 914.2 L1592.2 914.0 L1592.8 913.3 L1593.4 914.4 L1594.0 914.5 L1594.6 913.3 L1595.2 914.7 L1595.8 914.1 L1596.4 914.6 L1597.0 914.0 L1597.6 914.3 L1598.2 913.0 L1598.8 913.8 L1599.4 914.2 L1600.0 914.4 L1600.6 913.2 L1601.2 914.1 L1601.8 914.5 L1602.4 914.5 L1603.0 912.0 L1603.6 913.1 L1604.2 912.3 L1604.8 912.7 L1605.4 912.0 L1606.0 912.8 L1606.6 912.4 L1607.2 912.6 L1607.8 913.3 L1608.4 914.0 L1609.0 913.0 L1609.6 913.7 L1610.2 913.1 L1610.8 913.6 L1611.4 912.6 L1612.0 912.7 L1612.5 911.5 L1613.1 912.5 L1613.7 912.2 L1614.3 913.5 L1614.9 913.2 L1615.5 913.7 L1616.1 914.2 L1616.7 913.1 L1617.3 913.9 L1617.9 914.3 L1618.5 913.9 L1619.1 913.0 L1619.7 913.6 L1620.3 913.8 L1620.9 913.4 L1621.5 913.6 L1622.1 912.7 L1622.7 913.1 L1623.3 912.9 L1623.9 911.8 L1624.5 912.3 L1625.1 912.4 L1625.7 911.9 L1626.3 913.0 L1626.9 912.1 L1627.5 912.2 L1628.1 913.2 L1628.7 912.9 L1629.3 913.2 L1629.9 914.1 L1630.5 913.7 L1631.1 913.1 L1631.7 914.2 L1632.3 912.7 L1632.9 912.3 L1633.5 913.1 L1634.1 912.5 L1634.7 911.9 L1635.3 913.4 L1635.9 912.9 L1636.5 911.7 L1637.0 911.8 L1637.6 912.2 L1638.2 911.3 L1638.8 911.2 L1639.4 912.1 L1640.0 911.9 L1640.6 911.9 L1641.2 912.9 L1641.8 911.7 L1642.4 912.7 L1643.0 912.8 L1643.6 913.3 L1644.2 913.2 L1644.8 913.7 L1645.4 913.2 L1646.0 913.0 L1646.6 912.0 L1647.2 912.9 L1647.8 913.2 L1648.4 913.1 L1649.0 913.9"/>
<path class="cv" stroke="#00f" stroke-width="7" d="M162.4 962.6 L163.0 961.7 L163.6 959.6 L164.2 961.3 L164.7 962.1 L165.3 961.4 L165.9 960.1 L166.5 960.6 L167.1 958.1 L167.7 959.4 L168.2 959.2 L168.8 957.7 L169.4 960.3 L170.0 958.9 L170.6 956.9 L171.2 956.4 L171.8 961.0 L172.4 959.6 L173.0 958.2 L173.5 959.9 L174.1 959.4 L174.7 958.5 L175.3 959.0 L175.9 960.6 L176.5 956.3 L177.1 954.9 L177.6 956.2 L178.2 959.7 L178.8 958.8 L179.3 961.9 L179.9 962.5 L180.4 962.5 L181.0 965.4 L181.6 961.8 L182.2 968.0 L182.8 966.5 L183.4 968.4 L184.0 965.4 L184.7 965.3 L185.3 964.0 L185.9 963.4 L186.5 964.3 L187.1 965.1 L187.7 964.3 L188.3 966.3 L188.9 964.0 L189.5 966.5 L190.1 968.9 L190.7 964.6 L191.3 965.5 L192.0 962.9 L192.6 963.3 L193.2 964.1 L193.8 965.3 L194.4 965.8 L195.0 964.9 L195.6 965.1 L196.2 965.9 L196.8 965.9 L197.4 965.2 L198.0 964.1 L198.6 963.9 L199.2 962.7 L199.8 965.7 L200.4 961.5 L201.0 967.2 L201.6 964.5 L202.2 966.2 L202.8 966.6 L203.4 966.6 L204.0 965.0 L204.6 963.7 L205.2 966.1 L205.8 964.3 L206.4 967.5 L207.0 965.4 L207.6 967.4 L208.2 965.1 L208.8 966.2 L209.4 968.8 L209.9 966.2 L210.5 968.4 L211.1 967.2 L211.7 965.0 L212.3 969.4 L212.9 966.4 L213.5 967.4 L214.1 970.1 L214.6 968.0 L215.2 970.4 L215.8 969.4 L216.4 968.5 L217.0 970.4 L217.6 968.0 L218.2 971.6 L218.8 969.8 L219.4 967.1 L220.0 968.2 L220.6 971.2 L221.2 970.4 L221.8 968.8 L222.4 969.2 L223.0 968.9 L223.6 969.7 L224.2 970.5 L224.8 972.7 L225.4 973.7 L226.0 970.3 L226.6 972.8 L227.2 969.6 L227.9 973.9 L228.5 970.3 L229.1 970.7 L229.8 968.5 L230.4 972.4 L231.0 969.5 L231.6 970.8 L232.2 968.0 L232.8 971.3 L233.4 972.9 L234.0 971.4 L234.6 970.6 L235.2 971.3 L235.8 971.7 L236.4 971.9 L237.0 973.9 L237.6 973.9 L238.2 974.1 L238.8 971.0 L239.4 973.4 L240.0 974.0 L240.6 971.0 L241.2 973.4 L241.8 974.1 L242.4 971.2 L243.0 971.0 L243.6 973.5 L244.2 972.2 L244.8 972.9 L245.4 972.0 L246.0 970.7 L246.6 972.8 L247.2 973.0 L247.8 971.7 L248.4 971.6 L249.0 975.3 L249.6 976.5 L250.2 971.1 L250.8 972.1 L251.4 972.4 L252.0 976.5 L252.6 975.4 L253.2 974.7 L253.8 975.6 L254.4 974.5 L255.0 976.4 L255.6 978.5 L256.2 972.7 L256.8 975.2 L257.4 975.1 L258.0 973.3 L258.6 974.2 L259.2 971.0 L259.8 975.6 L260.5 972.8 L261.1 974.9 L261.7 976.0 L262.3 972.1 L262.9 974.5 L263.5 974.3 L264.2 974.4 L264.8 973.6 L265.4 972.8 L266.0 970.8 L266.6 971.3 L267.2 972.5 L267.8 972.0 L268.4 974.8 L269.0 972.8 L269.7 973.9 L270.3 974.3 L270.9 975.4 L271.5 974.2 L272.1 968.9 L272.7 974.9 L273.3 973.3 L273.9 970.8 L274.5 972.0 L275.1 971.5 L275.7 973.0 L276.3 974.0 L277.0 976.5 L277.6 972.2 L278.2 971.7 L278.8 969.7 L279.4 971.2 L280.0 970.1 L280.6 967.4 L281.2 971.5 L281.8 974.1 L282.4 967.5 L283.0 970.6 L283.6 973.0 L284.2 974.6 L284.8 970.3 L285.4 976.3 L286.0 974.4 L286.6 972.2 L287.2 975.4 L287.8 975.0 L288.4 971.6 L289.0 973.4 L289.6 973.5 L290.2 975.1 L290.9 973.0 L291.5 973.0 L292.1 975.5 L292.7 976.1 L293.3 973.6 L293.9 973.9 L294.5 971.7 L295.1 976.4 L295.7 971.1 L296.3 976.1 L296.9 973.5 L297.5 973.6 L298.1 973.3 L298.7 970.7 L299.3 972.4 L299.9 970.7 L300.5 976.1 L301.1 972.2 L301.7 972.8 L302.3 975.1 L302.9 971.3 L303.5 970.8 L304.1 973.3 L304.7 974.3 L305.3 971.3 L305.9 971.9 L306.5 975.0 L307.1 973.3 L307.7 973.3 L308.3 972.0 L308.9 974.8 L309.5 971.9 L310.1 974.8 L310.7 973.6 L311.3 973.7 L311.9 970.9 L312.5 974.7 L313.1 974.5 L313.6 971.2 L314.2 973.1 L314.8 974.1 L315.4 972.6 L316.0 974.5 L316.6 973.2 L317.2 970.9 L317.8 974.2 L318.4 973.4 L319.0 970.0 L319.6 972.2 L320.2 972.6 L320.8 972.0 L321.4 974.7 L322.0 972.8 L322.6 973.8 L323.2 976.3 L323.8 975.6 L324.4 973.5 L325.0 972.2 L325.6 973.7 L326.2 972.3 L326.8 975.4 L327.4 975.6 L328.0 972.9 L328.6 976.4 L329.2 972.7 L329.8 972.3 L330.4 973.7 L331.0 973.3 L331.6 971.6 L332.2 974.1 L332.8 973.5 L333.4 975.6 L334.0 976.0 L334.6 977.3 L335.2 973.4 L335.8 975.7 L336.4 976.0 L337.0 972.7 L337.6 977.9 L338.2 973.0 L338.8 975.5 L339.4 973.0 L340.0 974.1 L340.6 973.2 L341.2 973.9 L341.8 974.7 L342.4 974.0 L343.0 973.8 L343.6 975.6 L344.2 974.1 L344.8 973.9 L345.4 972.8 L346.0 973.8 L346.6 974.9 L347.2 974.8 L347.8 973.8 L348.4 972.2 L349.0 973.7 L349.6 971.9 L350.2 971.5 L350.8 973.0 L351.4 974.7 L352.0 971.4 L352.6 973.9 L353.2 968.7 L353.8 972.4 L354.4 972.7 L355.0 973.0 L355.6 974.0 L356.2 972.6 L356.8 973.4 L357.4 970.4 L358.0 973.5 L358.6 975.3 L359.2 972.9 L359.8 975.7 L360.3 974.0 L360.9 974.4 L361.5 972.0 L362.1 969.6 L362.7 970.6 L363.2 971.9 L363.8 972.7 L364.4 970.2 L365.0 972.8 L365.6 969.6 L366.2 970.2 L366.9 971.6 L367.5 971.4 L368.1 971.6 L368.8 970.5 L369.4 974.6 L370.0 968.5 L370.6 970.5 L371.2 971.1 L371.9 973.9 L372.5 974.0 L373.1 973.1 L373.7 972.6 L374.3 974.6 L374.9 973.8 L375.5 975.4 L376.1 973.1 L376.7 977.4 L377.3 975.1 L377.9 973.4 L378.5 969.5 L379.0 970.6 L379.6 971.5 L380.2 970.2 L380.8 972.8 L381.4 975.6 L382.0 973.5 L382.6 975.5 L383.2 970.1 L383.8 968.3 L384.4 972.8 L385.0 970.8 L385.6 968.9 L386.2 969.8 L386.8 969.6 L387.4 969.3 L388.1 971.0 L388.7 970.9 L389.3 968.1 L389.9 967.5 L390.5 970.8 L391.1 969.7 L391.7 969.6 L392.3 970.3 L392.9 968.8 L393.6 967.4 L394.2 967.1 L394.8 968.5 L395.4 968.7 L396.0 969.5 L396.6 968.3 L397.2 970.8 L397.8 973.9 L398.4 970.8 L399.0 968.4 L399.6 968.6 L400.2 970.2 L400.8 970.9 L401.4 970.8 L402.0 967.1 L402.6 969.5 L403.2 968.7 L403.8 971.0 L404.4 963.9 L405.0 968.6 L405.6 969.3 L406.2 969.9 L406.8 967.1 L407.4 969.2 L408.0 968.4 L408.6 965.4 L409.2 968.3 L409.8 966.9 L410.4 968.9 L411.0 966.8 L411.6 967.6 L412.2 965.5 L412.8 967.7 L413.4 967.9 L414.0 968.1 L414.6 967.8 L415.2 968.3 L415.8 968.7 L416.4 970.6 L417.0 967.8 L417.6 968.0 L418.2 965.1 L418.8 965.9 L419.4 968.1 L420.0 964.3 L420.6 965.8 L421.2 965.1 L421.8 965.8 L422.4 962.2 L423.0 964.4 L423.6 961.5 L424.2 963.0 L424.8 965.5 L425.4 965.6 L426.0 959.5 L426.6 963.2 L427.2 964.9 L427.8 962.1 L428.4 963.9 L429.0 965.7 L429.6 964.8 L430.2 960.5 L430.8 963.5 L431.4 962.3 L432.0 963.1 L432.6 959.3 L433.2 965.0 L433.8 964.6 L434.4 961.8 L435.0 963.2 L435.6 963.8 L436.2 965.6 L436.8 964.6 L437.5 963.4 L438.1 965.8 L438.7 965.1 L439.3 968.7 L439.9 965.0 L440.5 965.0 L441.2 963.0 L441.8 961.9 L442.4 963.7 L443.0 967.6 L443.6 963.8 L444.2 962.4 L444.9 961.4 L445.5 965.2 L446.1 964.0 L446.8 965.9 L447.4 958.2 L448.0 960.1 L448.6 958.2 L449.2 961.9 L449.8 958.3 L450.4 958.2 L451.0 958.5 L451.6 959.3 L452.2 956.6 L452.8 956.2 L453.4 957.5 L454.0 955.2 L454.6 954.1 L455.3 956.0 L455.9 958.1 L456.5 954.1 L457.1 954.0 L457.7 955.2 L458.3 950.9 L458.9 952.6 L459.5 952.1 L460.2 950.6 L460.8 948.3 L461.4 949.8 L462.0 950.7 L462.6 953.2 L463.2 953.0 L463.9 953.2 L464.5 953.4 L465.1 955.6 L465.8 951.2 L466.4 954.1 L467.0 955.5 L467.6 955.3 L468.2 958.0 L468.8 957.9 L469.4 957.0 L469.9 957.5 L470.5 956.7 L471.1 955.6 L471.7 961.9 L472.3 958.2 L472.9 956.4 L473.5 957.8 L474.1 959.6 L474.7 955.5 L475.3 953.3 L475.9 954.5 L476.4 954.8 L477.0 955.2 L477.6 952.8 L478.2 957.0 L478.8 957.6 L479.4 955.2 L480.0 952.3 L480.6 953.8 L481.2 951.1 L481.8 954.2 L482.4 953.1 L482.9 949.2 L483.5 951.2 L484.1 953.4 L484.7 951.3 L485.3 953.1 L485.9 952.8 L486.5 950.6 L487.1 950.2 L487.7 948.8 L488.2 951.1 L488.8 951.2 L489.4 951.3 L490.0 951.9 L490.6 952.3 L491.2 949.9 L491.8 952.1 L492.4 952.1 L493.0 951.3 L493.6 953.6 L494.2 951.5 L494.8 949.5 L495.4 951.3 L496.0 951.6 L496.6 953.2 L497.2 947.6 L497.8 952.5 L498.4 952.0 L499.0 950.8 L499.6 953.6 L500.2 949.7 L500.8 952.9 L501.4 953.2 L502.0 953.7 L502.6 952.0 L503.2 953.1 L503.8 952.0 L504.4 950.7 L505.0 951.5 L505.6 951.2 L506.2 954.1 L506.8 952.8 L507.4 950.1 L508.0 947.9 L508.6 949.7 L509.2 952.1 L509.8 951.6 L510.4 954.3 L511.0 954.2 L511.6 951.3 L512.2 951.1 L512.8 952.8 L513.4 952.7 L514.0 953.3 L514.6 950.4 L515.2 950.8 L515.8 950.6 L516.4 951.4 L517.0 949.0 L517.6 949.6 L518.2 946.8 L518.8 945.7 L519.4 944.1 L520.0 948.1 L520.6 946.1 L521.2 942.8 L521.8 943.6 L522.4 940.5 L523.0 942.4 L523.6 945.0 L524.2 940.5 L524.8 937.7 L525.4 944.4 L526.0 939.9 L526.6 938.9 L527.2 938.8 L527.8 942.8 L528.3 941.1 L528.9 941.3 L529.5 942.5 L530.1 940.4 L530.7 943.1 L531.2 941.2 L531.8 946.2 L532.4 943.1 L533.0 945.5 L533.6 944.4 L534.2 946.4 L534.8 944.7 L535.3 945.5 L535.9 947.4 L536.5 944.1 L537.1 946.2 L537.7 946.7 L538.2 946.0 L538.8 946.2 L539.4 944.1 L540.0 945.4 L540.6 946.4 L541.2 945.2 L541.8 942.5 L542.4 942.3 L543.0 943.5 L543.5 944.2 L544.1 942.7 L544.7 942.7 L545.3 943.1 L545.9 942.5 L546.5 941.2 L547.1 942.8 L547.7 942.3 L548.3 939.0 L548.8 943.7 L549.4 941.1 L550.0 941.6 L550.6 942.1 L551.2 942.0 L551.8 941.6 L552.4 941.2 L553.0 937.4 L553.6 937.5 L554.1 937.9 L554.7 937.8 L555.3 938.5 L555.9 940.3 L556.5 941.0 L557.1 937.4 L557.7 936.1 L558.2 938.1 L558.8 936.3 L559.4 937.0 L560.0 941.5 L560.6 936.4 L561.2 937.1 L561.8 936.6 L562.4 936.5 L563.0 938.9 L563.6 937.1 L564.2 937.7 L564.8 936.3 L565.4 937.4 L565.9 935.2 L566.5 935.9 L567.1 938.0 L567.7 936.3 L568.3 935.4 L568.9 935.7 L569.5 934.7 L570.1 934.7 L570.7 934.8 L571.3 937.7 L571.9 935.2 L572.5 938.1 L573.1 937.8 L573.7 935.9 L574.3 935.8 L574.9 936.8 L575.5 937.6 L576.1 936.1 L576.6 934.9 L577.2 934.7 L577.8 936.1 L578.4 937.0 L579.0 935.3 L579.6 939.9 L580.2 936.6 L580.8 937.7 L581.4 937.9 L582.0 940.9 L582.6 938.7 L583.2 937.5 L583.8 937.3 L584.5 938.8 L585.1 939.6 L585.7 938.0 L586.3 941.5 L586.9 942.1 L587.5 941.6 L588.1 942.3 L588.8 943.7 L589.4 943.8 L590.0 943.2 L590.6 940.7 L591.2 940.6 L591.8 941.6 L592.5 940.1 L593.1 941.5 L593.7 943.0 L594.3 941.8 L594.9 940.4 L595.5 942.6 L596.1 941.3 L596.6 943.3 L597.2 942.7 L597.8 942.4 L598.4 938.8 L599.0 940.8 L599.6 942.6 L600.1 942.1 L600.7 940.2 L601.3 942.1 L601.9 942.0 L602.5 941.1 L603.1 940.5 L603.7 942.7 L604.2 942.8 L604.8 940.8 L605.4 941.0 L606.0 943.1 L606.6 944.0 L607.2 940.3 L607.8 943.6 L608.4 942.1 L609.0 941.6 L609.6 942.7 L610.2 940.4 L610.8 941.6 L611.4 941.4 L612.0 940.2 L612.6 943.2 L613.2 942.3 L613.8 941.5 L614.4 942.9 L615.0 942.1 L615.6 942.6 L616.2 942.3 L616.8 942.6 L617.4 942.5 L618.0 942.6 L619.1 946.7 L620.3 950.8 L620.9 950.4 L621.4 950.6 L622.0 950.2 L622.6 949.5 L623.1 949.1 L623.7 949.6 L624.3 947.9 L624.9 948.2 L625.4 948.9 L626.0 946.0 L626.6 947.4 L627.1 949.7 L627.7 953.4 L628.3 950.4 L628.9 952.5 L629.4 953.6 L630.0 953.9 L630.6 958.1 L631.1 958.8 L631.7 958.1 L632.2 959.5 L632.8 958.6 L633.4 956.6 L633.9 959.5 L634.5 959.3 L635.1 958.7 L635.7 960.8 L636.3 960.7 L636.9 958.9 L637.6 959.9 L638.2 958.3 L638.8 958.2 L639.4 957.3 L640.0 960.0 L640.6 957.7 L641.2 956.7 L641.8 957.9 L642.4 957.5 L643.0 956.8 L643.6 957.1 L644.2 957.2 L644.8 961.3 L645.4 960.7 L646.0 961.7 L646.6 960.7 L647.2 959.3 L647.8 958.9 L648.4 962.0 L649.0 962.9 L649.6 961.6 L650.2 961.3 L650.8 965.0 L651.4 964.8 L652.0 968.8 L652.6 968.3 L653.2 967.7 L653.8 968.8 L654.4 971.8 L655.0 971.1 L655.6 971.1 L656.2 969.5 L656.8 969.9 L657.4 971.8 L658.0 974.3 L658.6 973.4 L659.2 973.5 L659.8 973.5 L660.4 974.3 L661.0 977.3 L661.6 973.9 L662.2 977.9 L662.8 980.4 L663.4 976.7 L664.1 974.6 L664.7 974.2 L665.4 972.4 L666.0 972.0 L667.0 968.3 L668.0 964.7 L669.0 961.0 L669.6 960.3 L670.2 959.0 L670.9 957.2 L671.5 955.4 L672.1 958.1 L672.8 958.4 L673.4 959.0 L674.0 960.0 L675.0 963.3 L676.0 966.7 L677.0 970.0 L678.1 974.5 L679.3 979.0 L680.5 985.0 L681.7 991.0 L682.3 991.6 L682.9 991.9 L683.5 992.9 L684.1 992.7 L684.6 993.8 L685.2 996.8 L685.8 995.2 L686.4 997.0 L687.0 994.4 L687.6 997.4 L688.2 997.8 L688.8 997.3 L689.4 1000.6 L690.0 998.1 L690.5 998.6 L691.1 1000.7 L691.7 1000.0 L692.3 1000.4 L692.9 1001.4 L693.5 1002.6 L694.1 1000.7 L694.6 1003.8 L695.2 1000.8 L695.8 999.7 L696.3 1000.5 L696.9 1000.9 L697.4 998.1 L698.0 998.9 L698.6 999.2 L699.2 1000.1 L699.9 996.7 L700.5 997.0 L701.1 998.6 L701.8 998.9 L702.4 1000.5 L703.0 999.8 L703.6 1000.2 L704.2 997.4 L704.9 999.9 L705.5 1002.3 L706.1 1002.1 L706.8 1001.2 L707.4 1003.3 L708.0 1005.9 L708.6 1003.1 L709.3 1007.1 L709.9 1006.3 L710.5 1007.9 L711.1 1007.4 L711.8 1011.5 L712.4 1010.3 L713.0 1009.4 L713.6 1009.5 L714.3 1014.3 L714.9 1009.5 L715.5 1011.8 L716.1 1015.3 L716.8 1015.9 L717.4 1012.0 L718.0 1013.9 L718.6 1012.6 L719.2 1014.6 L719.8 1013.7 L720.4 1012.7 L721.0 1013.6 L721.6 1013.1 L722.2 1016.6 L722.8 1013.2 L723.4 1017.3 L724.0 1014.7 L724.6 1014.3 L725.2 1013.6 L725.8 1016.3 L726.3 1014.7 L726.9 1015.1 L727.5 1017.2 L728.1 1016.7 L728.7 1018.3 L729.2 1019.1 L729.8 1019.9 L730.4 1020.6 L731.0 1022.0 L731.6 1021.8 L732.2 1022.9 L732.9 1018.1 L733.5 1021.7 L734.1 1020.6 L734.8 1019.6 L735.4 1019.4 L736.0 1016.5 L736.6 1016.9 L737.2 1018.2 L737.8 1022.3 L738.5 1021.8 L739.1 1021.2 L739.7 1020.7 L740.3 1020.9 L740.9 1019.7 L741.5 1021.3 L742.2 1023.8 L742.8 1024.2 L743.4 1025.2 L744.0 1028.1 L744.6 1027.0 L745.2 1025.8 L745.8 1027.2 L746.4 1027.0 L747.0 1031.1 L747.6 1029.3 L748.2 1030.4 L748.9 1029.3 L749.5 1029.4 L750.1 1030.5 L750.7 1032.2 L751.3 1030.2 L751.9 1032.5 L752.5 1033.6 L753.1 1032.8 L753.8 1029.5 L754.4 1031.5 L755.0 1033.0 L755.6 1031.8 L756.2 1029.3 L756.9 1030.5 L757.5 1030.6 L758.1 1029.8 L758.8 1031.4 L759.4 1032.1 L760.0 1031.6 L760.6 1031.8 L761.2 1029.5 L761.8 1034.6 L762.4 1032.3 L763.0 1034.6 L763.7 1032.3 L764.3 1033.9 L764.9 1033.8 L765.5 1033.5 L766.1 1034.8 L766.7 1035.1 L767.3 1036.9 L767.9 1033.0 L768.5 1035.5 L769.1 1037.4 L769.7 1037.8 L770.2 1036.3 L770.8 1036.9 L771.4 1038.2 L772.0 1038.7 L772.6 1035.4 L773.2 1036.8 L773.8 1037.5 L774.4 1039.2 L775.0 1040.0 L775.7 1040.6 L776.3 1039.8 L776.9 1037.4 L777.5 1038.6 L778.1 1037.1 L778.8 1034.8 L779.4 1038.0 L780.0 1034.0 L780.6 1034.9 L781.2 1034.6 L781.9 1034.7 L782.5 1034.8 L783.1 1034.3 L783.7 1035.0 L784.4 1034.1 L785.0 1035.6 L785.6 1038.6 L786.2 1036.2 L786.8 1034.6 L787.4 1034.4 L788.0 1034.0 L789.1 1029.5 L790.3 1025.0 L791.2 1018.2 L792.1 1011.5 L793.1 1004.8 L794.0 998.0 L795.4 950.0 L796.6 908.5 L797.4 878.8 L798.2 860.0 L798.6 849.0 L799.1 820.0 L799.6 790.0 L800.2 770.0 L801.3 722.3 L802.0 722.3 L802.6 722.3 L803.3 722.3 L804.3 770.0 L804.4 790.0 L804.5 820.0 L805.4 849.0 L805.6 878.8 L806.6 908.5 L807.5 950.0 L808.5 974.0 L809.4 998.0 L810.3 1005.1 L811.2 1012.2 L812.2 1019.3 L813.1 1026.4 L814.0 1033.5 L814.6 1034.7 L815.2 1036.2 L815.8 1037.3 L816.4 1038.3 L817.0 1038.7 L817.6 1039.7 L818.1 1042.3 L818.7 1040.7 L819.3 1041.1 L819.9 1041.8 L820.4 1041.3 L821.0 1043.2 L821.6 1043.5 L822.2 1043.2 L822.8 1045.1 L823.4 1044.0 L824.0 1043.9 L824.6 1044.0 L825.2 1044.5 L825.8 1043.2 L826.4 1043.6 L827.0 1043.5 L827.6 1044.1 L828.2 1043.5 L828.8 1042.9 L829.4 1042.3 L830.0 1043.3 L830.6 1044.1 L831.2 1043.9 L831.8 1043.2 L832.4 1044.4 L833.0 1043.5 L833.6 1043.9 L834.3 1042.8 L834.9 1043.2 L835.5 1044.0 L836.1 1043.1 L836.7 1042.5 L837.3 1043.2 L837.9 1043.8 L838.5 1042.8 L839.1 1043.4 L839.7 1042.5 L840.3 1042.3 L841.0 1042.7 L841.6 1041.2 L842.2 1043.1 L842.8 1043.1 L843.4 1042.2 L844.0 1042.5 L844.6 1041.9 L845.2 1042.0 L845.8 1041.2 L846.4 1040.4 L847.0 1043.6 L847.6 1042.4 L848.2 1042.2 L848.8 1041.5 L849.4 1042.5 L850.0 1043.5 L850.6 1044.4 L851.2 1043.2 L851.8 1044.1 L852.5 1044.2 L853.1 1045.3 L853.7 1046.0 L854.3 1047.5 L854.9 1047.9 L855.5 1047.3 L856.2 1047.5 L856.8 1047.8 L857.4 1048.6 L858.0 1047.5 L858.6 1048.6 L859.2 1049.3 L859.8 1049.3 L860.4 1048.4 L861.0 1049.8 L861.6 1050.4 L862.2 1051.3 L862.8 1051.3 L863.4 1051.6 L864.0 1052.0 L864.6 1051.4 L865.2 1052.2 L865.8 1052.3 L866.4 1051.9 L867.0 1051.8 L867.6 1052.0 L868.1 1051.2 L868.7 1051.4 L869.3 1051.5 L869.9 1049.2 L870.5 1051.6 L871.1 1050.3 L871.7 1049.9 L872.2 1049.9 L872.8 1050.1 L873.4 1049.9 L874.0 1049.1 L874.6 1049.7 L875.2 1049.9 L875.8 1048.3 L876.4 1049.6 L877.0 1049.7 L877.6 1048.5 L878.2 1049.6 L878.8 1049.0 L879.4 1048.9 L880.0 1049.4 L880.6 1049.0 L881.2 1049.1 L881.8 1049.7 L882.4 1047.7 L883.0 1048.1 L883.6 1048.1 L884.3 1050.0 L884.9 1049.0 L885.5 1050.5 L886.1 1049.9 L886.8 1049.7 L887.4 1051.6 L888.0 1051.0 L888.6 1051.6 L889.2 1052.2 L889.8 1052.6 L890.4 1052.9 L891.0 1053.4 L891.6 1053.1 L892.2 1054.7 L892.8 1053.8 L893.4 1055.6 L894.0 1055.1 L894.6 1055.8 L895.2 1056.2 L895.8 1053.9 L896.4 1053.4 L897.1 1053.4 L897.7 1053.9 L898.3 1053.7 L898.9 1053.6 L899.5 1054.7 L900.1 1053.3 L900.7 1053.3 L901.3 1053.5 L901.9 1054.1 L902.6 1053.3 L903.2 1053.3 L903.8 1053.7 L904.4 1054.2 L905.0 1052.9 L905.6 1053.6 L906.2 1053.9 L906.8 1055.0 L907.4 1054.8 L908.0 1055.6 L908.6 1054.5 L909.2 1054.6 L909.8 1054.7 L910.4 1056.8 L911.0 1055.4 L911.6 1055.8 L912.2 1056.1 L912.8 1056.4 L913.4 1057.4 L914.0 1057.0 L914.6 1056.1 L915.2 1057.6 L915.8 1056.6 L916.4 1056.8 L917.0 1056.3 L917.6 1056.1 L918.2 1055.3 L918.8 1055.2 L919.4 1055.3 L920.0 1055.9 L920.6 1056.8 L921.2 1056.7 L921.8 1056.2 L922.4 1057.2 L923.0 1057.2 L923.7 1056.0 L924.3 1056.4 L924.9 1056.4 L925.5 1056.6 L926.1 1056.0 L926.7 1056.4 L927.3 1056.3 L927.9 1056.0 L928.5 1057.3 L929.1 1058.4 L929.7 1057.1 L930.3 1057.5 L931.0 1058.0 L931.6 1057.2 L932.2 1057.5 L932.8 1057.3 L933.4 1057.7 L934.0 1057.9 L934.6 1057.5 L935.2 1057.0 L935.8 1057.0 L936.4 1056.9 L937.0 1058.7 L937.6 1058.3 L938.1 1058.2 L938.7 1057.4 L939.3 1057.0 L939.9 1055.3 L940.5 1056.9 L941.1 1057.8 L941.7 1056.9 L942.3 1057.3 L942.9 1057.3 L943.5 1056.8 L944.1 1055.8 L944.7 1056.8 L945.3 1058.4 L945.9 1057.6 L946.4 1058.1 L947.0 1058.2 L947.6 1058.8 L948.2 1058.5 L948.8 1059.3 L949.4 1057.8 L950.0 1058.4 L950.6 1059.8 L951.2 1058.1 L951.8 1058.4 L952.4 1059.3 L953.0 1059.1 L953.6 1059.4 L954.2 1059.9 L954.8 1058.9 L955.4 1060.5 L956.0 1059.0 L956.6 1057.5 L957.2 1058.9 L957.8 1057.8 L958.4 1059.5 L959.0 1059.2 L959.6 1058.6 L960.2 1059.5 L960.8 1058.6 L961.4 1057.7 L962.0 1059.8 L962.6 1058.5 L963.2 1059.3 L963.8 1059.5 L964.4 1059.3 L965.0 1058.9 L965.6 1058.7 L966.2 1058.4 L966.8 1058.0 L967.4 1058.2 L968.0 1058.2 L968.6 1058.0 L969.2 1058.5 L969.8 1057.0 L970.4 1058.1 L971.0 1057.4 L971.6 1058.7 L972.2 1059.0 L972.8 1058.9 L973.4 1059.0 L974.0 1059.1 L974.6 1059.0 L975.2 1060.0 L975.8 1059.7 L976.4 1058.7 L977.0 1059.7 L977.6 1059.1 L978.2 1059.4 L978.8 1058.1 L979.4 1060.1 L980.0 1059.9 L980.6 1059.8 L981.2 1060.0 L981.8 1059.2 L982.4 1059.2 L983.0 1059.3 L983.6 1058.7 L984.2 1060.0 L984.8 1059.8 L985.4 1059.4 L986.0 1060.1 L986.6 1059.1 L987.2 1060.0 L987.8 1059.6 L988.4 1060.5 L989.0 1059.7 L989.6 1058.4 L990.2 1060.3 L990.8 1061.5 L991.4 1059.9 L992.0 1061.4 L992.6 1061.6 L993.2 1061.3 L993.8 1060.2 L994.4 1060.4 L995.0 1060.5 L995.6 1061.8 L996.2 1061.3 L996.8 1059.7 L997.4 1059.4 L998.0 1059.9 L998.6 1059.4 L999.2 1060.1 L999.8 1059.1 L1000.4 1060.8 L1001.0 1061.1 L1001.6 1060.6 L1002.2 1059.8 L1002.8 1059.8 L1003.4 1061.1 L1004.0 1060.5 L1004.6 1059.2 L1005.2 1058.6 L1005.8 1059.1 L1006.4 1058.5 L1007.0 1057.4 L1007.6 1058.5 L1008.2 1058.5 L1008.8 1059.4 L1009.4 1060.0 L1010.0 1058.9 L1010.6 1060.7 L1011.2 1058.9 L1011.8 1058.7 L1012.4 1060.4 L1013.0 1059.3 L1013.6 1059.2 L1014.2 1059.3 L1014.8 1058.9 L1015.4 1059.2 L1016.1 1058.7 L1016.7 1057.5 L1017.3 1057.2 L1017.9 1057.3 L1018.5 1057.1 L1019.1 1056.9 L1019.7 1057.1 L1020.3 1056.4 L1020.9 1055.7 L1021.5 1056.0 L1022.1 1056.2 L1022.7 1056.8 L1023.3 1056.9 L1023.9 1056.6 L1024.5 1056.0 L1025.1 1056.7 L1025.7 1055.6 L1026.3 1055.6 L1026.9 1056.2 L1027.5 1056.5 L1028.1 1056.9 L1028.7 1056.8 L1029.3 1055.7 L1029.9 1056.0 L1030.5 1055.7 L1031.1 1055.2 L1031.7 1055.0 L1032.3 1056.1 L1032.9 1055.7 L1033.5 1055.4 L1034.1 1056.0 L1034.7 1056.7 L1035.3 1056.4 L1035.9 1056.9 L1036.5 1056.4 L1037.0 1057.5 L1037.6 1057.4 L1038.2 1055.7 L1038.8 1056.5 L1039.4 1056.2 L1040.0 1056.9 L1040.6 1056.6 L1041.2 1056.6 L1041.8 1056.6 L1042.4 1057.0 L1043.0 1056.9 L1043.6 1055.9 L1044.2 1056.5 L1044.8 1057.8 L1045.4 1056.4 L1046.0 1056.4 L1046.6 1056.5 L1047.2 1055.9 L1047.8 1056.9 L1048.4 1057.0 L1049.0 1057.4 L1049.6 1057.0 L1050.2 1055.8 L1050.8 1057.6 L1051.4 1056.6 L1052.0 1057.3 L1052.6 1055.3 L1053.2 1055.9 L1053.8 1055.4 L1054.4 1055.8 L1054.9 1055.7 L1055.5 1056.9 L1056.1 1055.9 L1056.7 1055.1 L1057.3 1055.9 L1057.9 1055.6 L1058.5 1054.9 L1059.1 1055.5 L1059.6 1054.5 L1060.2 1054.5 L1060.8 1054.1 L1061.4 1054.4 L1062.0 1054.9 L1062.6 1054.4 L1063.3 1053.4 L1063.9 1054.0 L1064.5 1054.1 L1065.2 1053.9 L1065.8 1053.6 L1066.4 1054.5 L1067.0 1055.0 L1067.7 1054.8 L1068.3 1054.2 L1068.9 1054.6 L1069.5 1053.6 L1070.1 1054.8 L1070.7 1055.0 L1071.3 1055.2 L1072.0 1053.6 L1072.6 1055.6 L1073.2 1055.3 L1073.8 1056.0 L1074.4 1055.1 L1075.0 1055.7 L1075.6 1057.2 L1076.2 1057.4 L1076.8 1057.8 L1077.4 1057.1 L1077.9 1056.8 L1078.5 1057.8 L1079.1 1057.1 L1079.7 1056.2 L1080.3 1058.8 L1080.9 1057.8 L1081.5 1058.6 L1082.1 1057.5 L1082.6 1057.1 L1083.2 1058.1 L1083.8 1057.8 L1084.4 1058.7 L1085.0 1057.9 L1085.6 1058.8 L1086.2 1058.9 L1086.8 1059.0 L1087.4 1059.1 L1088.0 1058.6 L1088.6 1057.9 L1089.2 1058.7 L1089.8 1057.9 L1090.4 1058.4 L1091.0 1057.9 L1091.6 1057.4 L1092.2 1057.7 L1092.8 1058.9 L1093.4 1058.0 L1094.1 1058.0 L1094.7 1058.4 L1095.3 1059.2 L1095.9 1058.1 L1096.5 1058.5 L1097.1 1056.8 L1097.7 1057.3 L1098.3 1057.3 L1098.9 1058.1 L1099.5 1057.2 L1100.1 1057.2 L1100.7 1057.1 L1101.3 1057.2 L1101.9 1059.1 L1102.5 1057.9 L1103.1 1056.7 L1103.7 1057.5 L1104.3 1058.5 L1104.9 1058.5 L1105.5 1059.0 L1106.1 1059.3 L1106.7 1058.3 L1107.3 1057.8 L1107.9 1059.8 L1108.5 1058.3 L1109.1 1057.6 L1109.7 1059.2 L1110.3 1058.1 L1110.9 1058.6 L1111.6 1058.1 L1112.2 1058.7 L1112.8 1058.2 L1113.4 1058.5 L1114.0 1059.0 L1114.6 1059.5 L1115.2 1058.5 L1115.8 1058.6 L1116.4 1057.7 L1117.0 1058.6 L1117.6 1057.6 L1118.2 1059.1 L1118.8 1058.1 L1119.4 1057.5 L1120.0 1057.5 L1120.6 1057.0 L1121.2 1057.5 L1121.8 1057.0 L1122.4 1057.5 L1123.0 1056.9 L1123.6 1055.3 L1124.2 1056.5 L1124.8 1055.4 L1125.4 1056.1 L1126.0 1056.8 L1126.6 1056.1 L1127.2 1056.1 L1127.8 1056.6 L1128.4 1056.9 L1129.0 1057.5 L1129.6 1055.9 L1130.2 1055.9 L1130.8 1056.4 L1131.4 1057.5 L1132.0 1057.1 L1132.6 1057.9 L1133.2 1056.4 L1133.8 1057.1 L1134.4 1057.3 L1135.0 1056.7 L1135.6 1058.0 L1136.2 1057.4 L1136.8 1057.4 L1137.4 1058.3 L1138.0 1057.4 L1138.6 1056.5 L1139.2 1056.7 L1139.8 1057.2 L1140.4 1058.4 L1141.0 1058.2 L1141.6 1056.3 L1142.2 1057.6 L1142.8 1058.0 L1143.4 1057.8 L1144.0 1058.1 L1144.6 1058.0 L1145.2 1057.6 L1145.8 1058.2 L1146.4 1056.5 L1147.0 1056.4 L1147.6 1056.8 L1148.2 1058.2 L1148.8 1057.0 L1149.4 1056.6 L1150.0 1057.1 L1150.6 1056.2 L1151.2 1055.1 L1151.8 1056.3 L1152.4 1057.5 L1153.0 1057.1 L1153.6 1056.9 L1154.2 1056.2 L1154.8 1057.4 L1155.4 1058.7 L1156.0 1057.4 L1156.6 1057.9 L1157.2 1058.1 L1157.8 1059.1 L1158.4 1058.7 L1159.0 1057.6 L1159.6 1057.5 L1160.1 1058.6 L1160.7 1057.6 L1161.3 1058.2 L1161.9 1059.1 L1162.5 1058.6 L1163.1 1058.0 L1163.7 1058.6 L1164.3 1058.8 L1164.9 1059.2 L1165.5 1058.7 L1166.1 1058.4 L1166.7 1059.1 L1167.3 1058.1 L1167.8 1059.0 L1168.4 1057.8 L1169.0 1057.8 L1169.6 1057.6 L1170.2 1058.0 L1170.8 1058.1 L1171.4 1059.2 L1172.0 1059.0 L1172.6 1058.6 L1173.2 1059.3 L1173.8 1058.0 L1174.4 1058.1 L1175.0 1058.3 L1175.6 1057.7 L1176.1 1055.9 L1176.7 1056.3 L1177.3 1057.4 L1177.9 1058.7 L1178.5 1058.3 L1179.1 1058.9 L1179.7 1058.1 L1180.3 1058.7 L1180.9 1056.9 L1181.5 1057.1 L1182.2 1056.7 L1182.8 1057.0 L1183.4 1056.4 L1184.0 1057.0 L1184.7 1056.5 L1185.3 1055.8 L1186.0 1056.6 L1186.6 1056.3 L1187.3 1058.0 L1187.9 1058.5 L1188.6 1059.1 L1189.2 1061.2 L1189.8 1059.7 L1190.3 1058.3 L1190.9 1057.9 L1191.5 1056.5 L1192.2 1055.8 L1192.9 1054.9 L1193.6 1053.6 L1194.3 1052.4 L1194.9 1050.6 L1195.6 1048.8 L1196.6 1044.9 L1197.5 1038.9 L1198.5 1034.0 L1199.5 1025.1 L1200.5 1019.2 L1201.5 1013.2 L1202.5 994.5 L1203.5 979.6 L1204.3 974.5 L1204.9 973.4 L1205.4 971.8 L1206.0 970.6 L1206.6 970.5 L1207.2 971.0 L1207.7 970.8 L1208.3 970.6 L1208.7 974.7 L1209.4 979.6 L1210.2 984.5 L1210.9 989.5 L1211.7 994.5 L1212.4 999.4 L1213.7 1009.3 L1214.5 1014.2 L1215.3 1019.2 L1216.3 1029.0 L1217.0 1034.0 L1217.8 1038.9 L1218.8 1043.8 L1219.8 1048.8 L1220.5 1049.9 L1221.1 1052.0 L1221.8 1052.6 L1222.4 1054.4 L1222.9 1055.1 L1223.5 1056.0 L1224.1 1056.8 L1224.6 1058.2 L1225.2 1059.4 L1225.8 1058.4 L1226.4 1060.1 L1227.0 1058.6 L1227.7 1059.4 L1228.3 1058.5 L1228.9 1059.1 L1229.5 1059.6 L1230.1 1059.2 L1230.7 1058.9 L1231.3 1059.7 L1231.9 1059.1 L1232.5 1058.6 L1233.2 1059.8 L1233.8 1059.5 L1234.4 1060.1 L1235.0 1059.6 L1235.6 1060.5 L1236.2 1060.1 L1236.8 1061.6 L1237.4 1060.3 L1238.0 1061.1 L1238.6 1061.3 L1239.2 1062.0 L1239.8 1061.0 L1240.4 1062.0 L1241.0 1061.4 L1241.6 1061.6 L1242.2 1062.5 L1242.8 1061.2 L1243.4 1062.8 L1244.0 1062.7 L1244.6 1061.5 L1245.2 1061.3 L1245.8 1062.5 L1246.4 1062.1 L1247.0 1062.6 L1247.6 1062.8 L1248.2 1063.4 L1248.8 1064.1 L1249.4 1063.0 L1250.0 1065.1 L1250.6 1062.6 L1251.2 1063.3 L1251.8 1063.9 L1252.4 1063.3 L1253.0 1063.7 L1253.6 1064.5 L1254.2 1063.6 L1254.8 1062.7 L1255.4 1063.0 L1256.0 1063.2 L1256.6 1063.9 L1257.2 1064.5 L1257.8 1064.5 L1258.4 1063.6 L1259.0 1063.7 L1259.6 1063.8 L1260.2 1063.6 L1260.7 1062.7 L1261.3 1063.3 L1261.9 1063.7 L1262.5 1063.7 L1263.1 1063.7 L1263.7 1064.8 L1264.3 1064.1 L1264.9 1064.1 L1265.5 1063.6 L1266.1 1063.8 L1266.7 1064.2 L1267.3 1064.1 L1267.9 1063.9 L1268.5 1064.5 L1269.1 1064.2 L1269.7 1063.3 L1270.3 1064.0 L1270.9 1063.8 L1271.5 1063.4 L1272.1 1062.7 L1272.7 1063.6 L1273.3 1065.1 L1273.9 1064.2 L1274.5 1065.1 L1275.1 1064.5 L1275.7 1064.3 L1276.3 1064.3 L1276.9 1063.9 L1277.5 1064.6 L1278.1 1064.7 L1278.7 1064.4 L1279.3 1063.9 L1279.9 1063.6 L1280.4 1064.4 L1281.0 1065.5 L1281.6 1064.2 L1282.2 1064.5 L1282.8 1062.9 L1283.4 1063.8 L1284.0 1063.9 L1284.6 1063.6 L1285.2 1064.3 L1285.8 1064.1 L1286.4 1064.0 L1287.0 1065.5 L1287.6 1066.5 L1288.2 1066.2 L1288.8 1065.9 L1289.4 1065.6 L1290.0 1065.9 L1290.6 1066.2 L1291.2 1067.0 L1291.8 1065.3 L1292.4 1065.9 L1293.0 1067.1 L1293.6 1065.7 L1294.2 1065.8 L1294.8 1064.5 L1295.4 1064.5 L1296.0 1064.6 L1296.6 1065.6 L1297.2 1066.0 L1297.8 1064.7 L1298.4 1066.3 L1299.0 1065.3 L1299.6 1065.1 L1300.2 1065.8 L1300.8 1065.1 L1301.4 1065.8 L1302.0 1065.0 L1302.6 1065.2 L1303.2 1066.2 L1303.8 1065.8 L1304.4 1063.8 L1305.0 1064.5 L1305.6 1065.4 L1306.2 1063.3 L1306.8 1065.1 L1307.4 1065.1 L1308.0 1064.1 L1308.6 1064.3 L1309.2 1064.6 L1309.8 1064.2 L1310.4 1064.2 L1311.0 1065.7 L1311.6 1065.5 L1312.2 1065.3 L1312.8 1065.9 L1313.4 1064.4 L1314.0 1064.1 L1314.6 1064.7 L1315.2 1066.1 L1315.8 1064.6 L1316.4 1064.6 L1317.0 1065.1 L1317.6 1065.4 L1318.2 1065.7 L1318.8 1066.0 L1319.4 1065.8 L1320.0 1066.3 L1320.6 1066.4 L1321.2 1065.7 L1321.8 1067.0 L1322.4 1067.0 L1323.0 1066.9 L1323.6 1066.4 L1324.2 1066.2 L1324.8 1066.1 L1325.4 1067.0 L1326.0 1066.6 L1326.6 1066.1 L1327.2 1066.6 L1327.8 1065.9 L1328.4 1067.0 L1329.0 1065.5 L1329.6 1065.7 L1330.2 1065.3 L1330.8 1066.0 L1331.4 1067.4 L1332.0 1066.0 L1332.6 1065.6 L1333.2 1067.0 L1333.8 1065.7 L1334.4 1066.5 L1335.0 1066.9 L1335.6 1066.9 L1336.2 1066.6 L1336.8 1066.8 L1337.4 1066.1 L1338.0 1066.4 L1338.6 1066.2 L1339.2 1066.4 L1339.8 1066.3 L1340.4 1066.9 L1341.0 1066.3 L1341.6 1067.6 L1342.2 1067.3 L1342.8 1068.6 L1343.4 1067.8 L1344.0 1068.5 L1344.6 1067.8 L1345.2 1068.5 L1345.8 1067.7 L1346.4 1067.4 L1347.0 1067.9 L1347.6 1067.3 L1348.2 1068.2 L1348.8 1068.5 L1349.4 1068.8 L1350.0 1068.4 L1350.6 1067.0 L1351.2 1068.4 L1351.8 1068.1 L1352.4 1067.6 L1353.0 1069.5 L1353.6 1068.5 L1354.2 1067.4 L1354.8 1068.9 L1355.4 1069.5 L1356.0 1068.7 L1356.6 1068.6 L1357.2 1068.6 L1357.8 1066.4 L1358.4 1068.8 L1359.0 1067.2 L1359.6 1067.2 L1360.2 1067.7 L1360.8 1067.4 L1361.4 1068.5 L1362.0 1068.4 L1362.6 1068.4 L1363.2 1068.1 L1363.8 1070.1 L1364.4 1068.5 L1365.0 1068.4 L1365.6 1070.1 L1366.2 1068.5 L1366.8 1068.4 L1367.4 1070.1 L1368.0 1070.2 L1368.6 1070.4 L1369.2 1069.1 L1369.8 1069.7 L1370.4 1069.4 L1371.0 1069.9 L1371.6 1070.5 L1372.2 1070.1 L1372.8 1070.0 L1373.4 1070.2 L1374.0 1071.1 L1374.6 1070.5 L1375.2 1069.7 L1375.8 1069.7 L1376.4 1071.2 L1377.0 1070.8 L1377.6 1070.1 L1378.2 1070.7 L1378.8 1071.6 L1379.4 1070.9 L1380.0 1070.8 L1380.6 1070.9 L1381.2 1070.8 L1381.8 1070.9 L1382.4 1069.5 L1383.0 1071.4 L1383.6 1071.4 L1384.2 1070.9 L1384.8 1071.7 L1385.4 1069.5 L1386.0 1070.3 L1386.6 1069.7 L1387.2 1070.5 L1387.8 1070.8 L1388.4 1071.7 L1389.0 1071.3 L1389.6 1071.5 L1390.2 1071.0 L1390.8 1070.7 L1391.4 1070.4 L1392.0 1070.6 L1392.6 1071.5 L1393.2 1071.3 L1393.8 1071.1 L1394.4 1072.4 L1395.0 1071.6 L1395.6 1070.9 L1396.2 1070.0 L1396.8 1069.8 L1397.4 1071.6 L1398.0 1071.2 L1398.6 1071.4 L1399.2 1071.0 L1399.8 1072.0 L1400.4 1071.7 L1401.0 1071.1 L1401.6 1071.6 L1402.2 1071.5 L1402.8 1072.3 L1403.4 1071.3 L1404.0 1070.3 L1404.6 1070.2 L1405.2 1070.4 L1405.8 1071.1 L1406.4 1071.0 L1407.0 1071.7 L1407.6 1070.6 L1408.2 1070.4 L1408.8 1070.8 L1409.4 1069.9 L1410.0 1070.4 L1410.6 1071.0 L1411.2 1071.8 L1411.8 1070.8 L1412.3 1071.2 L1412.9 1070.9 L1413.5 1071.5 L1414.1 1072.3 L1414.7 1072.7 L1415.3 1072.3 L1415.9 1070.8 L1416.5 1070.7 L1417.1 1070.5 L1417.7 1070.8 L1418.3 1071.5 L1418.9 1070.1 L1419.5 1069.9 L1420.1 1072.1 L1420.7 1070.7 L1421.3 1071.8 L1421.9 1071.6 L1422.5 1071.0 L1423.1 1072.0 L1423.7 1072.3 L1424.3 1071.4 L1424.9 1072.7 L1425.5 1073.2 L1426.1 1072.3 L1426.7 1073.2 L1427.3 1073.8 L1427.9 1072.9 L1428.5 1074.0 L1429.1 1073.9 L1429.7 1073.4 L1430.3 1073.9 L1430.9 1073.6 L1431.5 1072.6 L1432.1 1072.6 L1432.7 1072.6 L1433.3 1072.8 L1433.9 1073.4 L1434.5 1073.1 L1435.1 1072.6 L1435.7 1072.5 L1436.3 1072.8 L1436.9 1072.7 L1437.5 1071.9 L1438.1 1072.6 L1438.7 1072.7 L1439.3 1072.4 L1439.9 1072.0 L1440.5 1071.8 L1441.1 1071.9 L1441.7 1070.6 L1442.3 1069.4 L1442.8 1071.0 L1443.4 1070.9 L1444.0 1070.2 L1444.6 1071.0 L1445.2 1070.6 L1445.8 1071.6 L1446.4 1071.3 L1447.0 1071.4 L1447.6 1071.1 L1448.2 1071.8 L1448.8 1070.1 L1449.4 1071.1 L1450.0 1071.5 L1450.6 1071.7 L1451.2 1071.1 L1451.9 1069.9 L1452.5 1071.6 L1453.1 1070.5 L1453.7 1069.9 L1454.3 1070.1 L1455.0 1070.2 L1455.6 1070.6 L1456.2 1070.7 L1456.8 1072.1 L1457.4 1070.3 L1458.1 1070.3 L1458.7 1070.9 L1459.3 1071.0 L1459.9 1070.1 L1460.5 1071.1 L1461.1 1071.3 L1461.7 1069.3 L1462.3 1071.0 L1462.9 1072.4 L1463.4 1072.7 L1464.0 1072.3 L1464.6 1073.3 L1465.2 1073.5 L1465.8 1072.1 L1466.4 1072.7 L1467.0 1072.9 L1467.6 1073.9 L1468.2 1073.1 L1468.8 1072.9 L1469.3 1072.9 L1469.9 1073.1 L1470.5 1072.9 L1471.1 1073.0 L1471.7 1074.4 L1472.3 1073.8 L1472.9 1074.3 L1473.5 1073.5 L1474.0 1073.9 L1474.6 1075.3 L1475.2 1075.0 L1475.8 1075.9 L1476.4 1075.7 L1477.0 1075.7 L1477.6 1075.7 L1478.2 1075.9 L1478.8 1075.0 L1479.4 1074.7 L1480.0 1075.4 L1480.6 1075.5 L1481.2 1075.1 L1481.8 1075.1 L1482.5 1075.3 L1483.1 1075.6 L1483.7 1074.7 L1484.3 1074.7 L1484.9 1075.0 L1485.5 1074.9 L1486.1 1074.9 L1486.7 1074.6 L1487.3 1074.7 L1487.9 1075.4 L1488.5 1072.7 L1489.1 1075.0 L1489.7 1074.1 L1490.3 1074.6 L1490.9 1075.5 L1491.5 1076.3 L1492.1 1074.6 L1492.7 1076.3 L1493.3 1077.5 L1494.0 1076.9 L1494.6 1075.8 L1495.2 1075.8 L1495.8 1076.2 L1496.4 1076.6 L1497.0 1074.8 L1497.6 1076.4 L1498.2 1075.2 L1498.8 1076.0 L1499.4 1075.2 L1500.0 1075.3 L1500.6 1075.9 L1501.2 1075.8 L1501.8 1075.6 L1502.4 1073.1 L1503.0 1074.9 L1503.6 1075.2 L1504.1 1075.7 L1504.7 1075.1 L1505.3 1074.7 L1505.9 1075.2 L1506.5 1072.6 L1507.1 1074.0 L1507.7 1074.7 L1508.3 1075.2 L1508.9 1074.6 L1509.5 1076.0 L1510.1 1075.2 L1510.7 1075.5 L1511.3 1075.1 L1511.9 1074.5 L1512.4 1074.3 L1513.0 1074.6 L1513.6 1074.1 L1514.2 1075.5 L1514.8 1075.5 L1515.4 1075.8 L1516.0 1076.0 L1516.6 1076.5 L1517.2 1074.7 L1517.9 1073.9 L1518.5 1073.0 L1519.1 1072.8 L1519.8 1072.1 L1520.4 1071.3 L1521.0 1069.9 L1521.6 1069.0 L1522.2 1067.1 L1522.9 1065.5 L1523.5 1065.8 L1524.1 1064.8 L1524.8 1062.4 L1525.4 1061.6 L1526.0 1060.3 L1526.6 1060.6 L1527.2 1060.2 L1527.8 1059.8 L1528.4 1061.5 L1529.0 1060.4 L1529.5 1059.8 L1530.1 1061.3 L1530.7 1060.9 L1531.3 1059.7 L1531.9 1059.7 L1532.5 1058.6 L1533.1 1059.3 L1533.7 1059.3 L1534.3 1058.9 L1534.9 1059.6 L1535.6 1059.5 L1536.2 1060.2 L1536.8 1061.5 L1537.4 1060.8 L1538.0 1061.7 L1538.6 1061.9 L1539.1 1061.3 L1539.7 1061.2 L1540.3 1060.1 L1540.9 1060.8 L1541.4 1061.3 L1542.0 1061.8 L1542.6 1062.2 L1543.1 1061.8 L1543.7 1062.3 L1544.3 1063.5 L1544.9 1065.8 L1545.4 1066.4 L1546.0 1067.5 L1546.6 1067.9 L1547.1 1068.6 L1547.7 1068.2 L1548.3 1070.0 L1548.9 1071.4 L1549.4 1073.1 L1550.0 1073.4 L1550.6 1074.3 L1551.2 1074.1 L1551.8 1074.6 L1552.5 1075.7 L1553.1 1075.2 L1553.7 1076.8 L1554.3 1076.9 L1554.9 1075.9 L1555.5 1076.5 L1556.1 1077.4 L1556.7 1076.9 L1557.3 1077.2 L1557.8 1077.0 L1558.4 1076.8 L1559.0 1076.1 L1559.6 1076.3 L1560.2 1075.9 L1560.8 1075.9 L1561.4 1076.6 L1562.0 1075.3 L1562.6 1074.9 L1563.2 1075.3 L1563.8 1075.7 L1564.4 1076.9 L1565.0 1076.5 L1565.6 1076.2 L1566.1 1076.3 L1566.7 1077.0 L1567.3 1076.7 L1567.9 1075.1 L1568.5 1074.5 L1569.1 1075.3 L1569.7 1074.6 L1570.3 1075.9 L1570.9 1075.3 L1571.5 1074.6 L1572.1 1074.8 L1572.7 1075.2 L1573.3 1075.1 L1573.8 1075.2 L1574.4 1076.4 L1575.0 1075.6 L1575.6 1076.5 L1576.2 1076.1 L1576.8 1076.5 L1577.4 1076.0 L1578.0 1076.8 L1578.6 1077.2 L1579.2 1076.9 L1579.8 1077.4 L1580.4 1077.1 L1581.0 1077.0 L1581.6 1076.3 L1582.2 1077.9 L1582.8 1076.6 L1583.4 1077.1 L1584.0 1077.3 L1584.6 1077.1 L1585.2 1077.3 L1585.9 1076.9 L1586.5 1077.5 L1587.1 1077.1 L1587.7 1078.0 L1588.3 1077.0 L1588.9 1077.2 L1589.5 1076.7 L1590.1 1077.5 L1590.7 1077.5 L1591.3 1076.8 L1591.9 1077.2 L1592.5 1077.9 L1593.1 1077.2 L1593.7 1075.8 L1594.3 1076.1 L1594.9 1077.6 L1595.5 1077.3 L1596.1 1077.2 L1596.7 1076.7 L1597.3 1077.6 L1597.9 1078.1 L1598.5 1078.8 L1599.1 1077.3 L1599.7 1077.9 L1600.3 1078.4 L1600.9 1078.4 L1601.5 1078.0 L1602.2 1077.6 L1602.8 1077.6 L1603.4 1077.7 L1604.0 1077.1 L1604.6 1076.3 L1605.2 1076.6 L1605.8 1077.0 L1606.4 1077.9 L1607.0 1077.0 L1607.6 1077.7 L1608.2 1077.0 L1608.8 1077.1 L1609.4 1077.1 L1610.0 1077.7 L1610.6 1076.5 L1611.2 1077.2 L1611.8 1076.1 L1612.4 1076.6 L1613.0 1077.1 L1613.6 1077.1 L1614.2 1077.6 L1614.8 1076.6 L1615.4 1078.3 L1616.0 1077.6 L1616.6 1078.5 L1617.2 1077.8 L1617.8 1078.9 L1618.4 1078.9 L1619.0 1079.2 L1619.6 1079.3 L1620.2 1078.1 L1620.8 1078.8 L1621.4 1077.1 L1622.0 1077.7 L1622.6 1078.0 L1623.2 1077.9 L1623.8 1077.7 L1624.4 1077.1 L1625.0 1078.7 L1625.6 1078.3 L1626.2 1078.9 L1626.8 1078.7 L1627.4 1079.7 L1628.0 1079.4 L1628.6 1080.6 L1629.2 1079.3 L1629.8 1078.6 L1630.4 1078.8 L1631.0 1079.0 L1631.6 1080.0 L1632.2 1078.8 L1632.8 1080.4 L1633.4 1078.8 L1634.0 1079.9 L1634.6 1079.5 L1635.2 1080.6 L1635.8 1080.1 L1636.4 1079.5 L1637.0 1080.0 L1637.6 1079.3 L1638.2 1078.3 L1638.8 1078.4 L1639.4 1077.5 L1640.0 1078.2 L1640.6 1078.1 L1641.2 1077.3 L1641.8 1078.1 L1642.4 1078.0 L1643.0 1078.6 L1643.6 1079.1 L1644.2 1078.1 L1644.8 1078.7 L1645.4 1079.1 L1646.0 1078.1 L1646.6 1078.9 L1647.2 1078.6 L1647.8 1079.1 L1648.4 1079.3 L1649.0 1079.2"/>
<text class="b" transform="translate(188.1 711) scale(0.9274 1)" style="font-size:44.4px">Unwashed sample</text>
<text class="b" transform="translate(219.1 816) scale(0.9232 1)" style="font-size:44.4px;fill:#f00">Water washed x1</text>
<text class="b" transform="translate(180.9 933) scale(0.9361 1)" style="font-size:44.4px;fill:#00f">Water washed x2</text>
<text class="b" transform="translate(1143.0 407) scale(0.9334 1)" style="font-size:50.0px">(220)</text>
<text class="b" transform="translate(1264.0 428) scale(0.9309 1)" style="font-size:50.0px">NaCl</text>
<text class="b" transform="translate(1292.9 843) scale(0.9675 1)" style="font-size:44.4px">55%</text>
<text class="b" transform="translate(1297.0 1034) scale(0.9356 1)" style="font-size:44.4px">38%</text>
<g fill="#000" shape-rendering="crispEdges">
<rect x="1270" y="667" width="2" height="142"/><path d="M1264 808H1279L1273 838H1270Z"/>
<rect x="1270" y="958" width="2" height="132"/><path d="M1264 1089H1279L1273 1118H1270Z"/>
</g>
</svg></body></html>
